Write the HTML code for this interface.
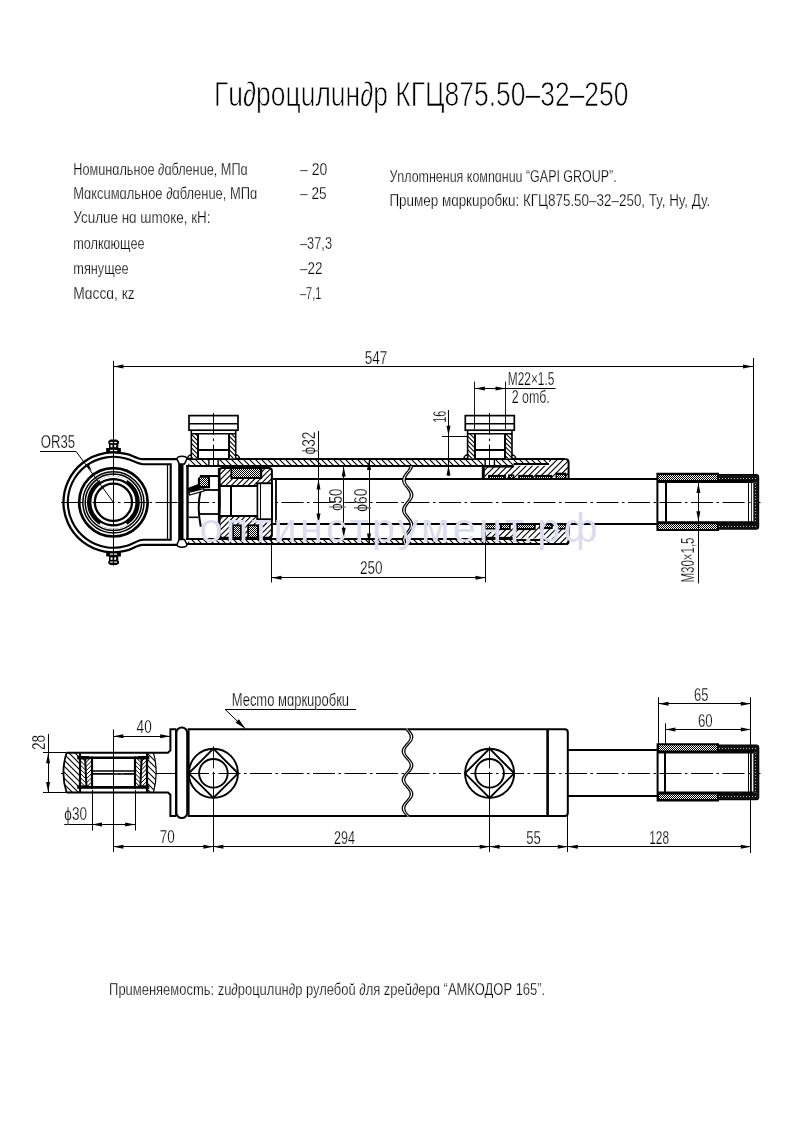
<!DOCTYPE html>
<html><head><meta charset="utf-8"><style>
html,body{margin:0;padding:0;background:#fff;}
svg{display:block;}
text{font-family:"Liberation Sans",sans-serif;fill:#000;stroke:#fff;stroke-width:0.25px;}
svg{will-change:transform;}
</style></head><body>
<svg width="793" height="1123" viewBox="0 0 793 1123" stroke="#000" fill="none" stroke-linecap="butt">
<defs>
<pattern id="hatch" patternUnits="userSpaceOnUse" width="6" height="6" patternTransform="rotate(-45)"><rect width="6" height="6" fill="#fff"/><line x1="0" y1="0" x2="0" y2="6" stroke="#000" stroke-width="1.1"/></pattern>
<pattern id="hatch2" patternUnits="userSpaceOnUse" width="7" height="7" patternTransform="rotate(45)"><rect width="7" height="7" fill="#fff"/><line x1="0" y1="0" x2="0" y2="7" stroke="#000" stroke-width="1.1"/></pattern>
<pattern id="hatch3" patternUnits="userSpaceOnUse" width="3" height="3" patternTransform="rotate(-45)"><rect width="3" height="3" fill="#fff"/><line x1="0" y1="0" x2="0" y2="3" stroke="#000" stroke-width="0.9"/></pattern>
<pattern id="dots" patternUnits="userSpaceOnUse" x="0" y="0" width="2" height="2"><rect width="2" height="2" fill="#fff"/><rect width="1" height="1" fill="#000"/><rect x="1" y="1" width="1" height="1" fill="#000"/></pattern>
</defs>
<text x="214.00" y="105.60" font-size="34.5" text-anchor="start" textLength="414.50" lengthAdjust="spacingAndGlyphs" style="stroke:#fff;stroke-width:0.75px">Гu∂роцuлuн∂р КГЦ875.50–32–250</text>
<text x="73.30" y="175.40" font-size="16.4" text-anchor="start" textLength="174.30" lengthAdjust="spacingAndGlyphs" >Номuнɑльное ∂ɑбленuе, МПɑ</text>
<text x="300.00" y="175.40" font-size="16.4" text-anchor="start" textLength="27.30" lengthAdjust="spacingAndGlyphs" >– 20</text>
<text x="73.30" y="199.00" font-size="16.4" text-anchor="start" textLength="183.90" lengthAdjust="spacingAndGlyphs" >Мɑксuмɑльное ∂ɑбленuе, МПɑ</text>
<text x="300.00" y="199.00" font-size="16.4" text-anchor="start" textLength="26.60" lengthAdjust="spacingAndGlyphs" >– 25</text>
<text x="73.30" y="223.30" font-size="16.4" text-anchor="start" textLength="137.20" lengthAdjust="spacingAndGlyphs" >Усuлuе нɑ ɯmоке, кН:</text>
<text x="73.30" y="249.40" font-size="16.4" text-anchor="start" textLength="71.20" lengthAdjust="spacingAndGlyphs" >mолкɑющее</text>
<text x="300.00" y="249.40" font-size="16.4" text-anchor="start" textLength="32.00" lengthAdjust="spacingAndGlyphs" >–37,3</text>
<text x="73.30" y="274.40" font-size="16.4" text-anchor="start" textLength="55.40" lengthAdjust="spacingAndGlyphs" >mянущее</text>
<text x="300.00" y="274.40" font-size="16.4" text-anchor="start" textLength="22.40" lengthAdjust="spacingAndGlyphs" >–22</text>
<text x="73.30" y="298.80" font-size="16.4" text-anchor="start" textLength="61.40" lengthAdjust="spacingAndGlyphs" >Мɑссɑ, кz</text>
<text x="300.00" y="298.80" font-size="16.4" text-anchor="start" textLength="21.30" lengthAdjust="spacingAndGlyphs" >–7,1</text>
<text x="389.40" y="181.60" font-size="16.4" text-anchor="start" textLength="227.30" lengthAdjust="spacingAndGlyphs" >Уnлоmненuя комnɑнuu “GAPI GROUP”.</text>
<text x="389.40" y="205.60" font-size="16.4" text-anchor="start" textLength="320.80" lengthAdjust="spacingAndGlyphs" >Прuмер мɑркuробкu: КГЦ875.50–32–250, Ту, Ну, Ду.</text>
<text x="109.10" y="994.70" font-size="16.4" text-anchor="start" textLength="436.10" lengthAdjust="spacingAndGlyphs" >Прuменяемосmь: zu∂роцuлuн∂р рулебоŭ ∂ля zреŭ∂ерɑ “АМКОДОР 165”.</text>
<line x1="61.00" y1="502.50" x2="760.50" y2="502.50" stroke-width="1" stroke-dasharray="22 3.5 2.5 3.5"/>
<path d="M178 459.2 L142.4 459.2 C137 459.2 131.5 454.6 126 453.9 A50 50 0 1 0 126 550.7 C131.5 550 137 544.8 142.4 544.8 L178 544.8" stroke-width="2.3" fill="none" />
<path d="M143.5 464.2 C137 464.2 132 459.5 126 458.6 A45.5 45.5 0 1 0 126 546.0 C132 545.1 137 539.8 143.5 539.8 L170.7 539.8 L170.7 464.2 Z" stroke-width="2.1" fill="none" />
<line x1="167.50" y1="465.00" x2="167.50" y2="539.00" stroke-width="1.2" />
<path d="M106.20 452.50 L106.20 448.10 L109.00 448.10 L109.00 443.70 L108.30 443.70 L108.30 441.20 L110.30 439.60 L116.50 439.60 L119.00 441.20 L119.00 443.70 L118.30 443.70 L118.30 448.10 L120.90 448.10 L120.90 452.50 Z" fill="#000" stroke="none"/>
<rect x="110" y="449.90" width="3" height="1.2" fill="#fff" stroke="none"/>
<rect x="114" y="449.90" width="3.2" height="1.2" fill="#fff" stroke="none"/>
<rect x="110.2" y="441.90" width="2.7" height="1.2" fill="#fff" stroke="none"/>
<rect x="114.1" y="441.90" width="2.8" height="1.2" fill="#fff" stroke="none"/>
<rect x="110.6" y="444.80" width="1.9" height="2.4" fill="#fff" stroke="none"/>
<rect x="114.2" y="444.80" width="1.9" height="2.4" fill="#fff" stroke="none"/>
<path d="M106.20 552.10 L106.20 556.50 L109.00 556.50 L109.00 560.90 L108.30 560.90 L108.30 563.40 L110.30 565.00 L116.50 565.00 L119.00 563.40 L119.00 560.90 L118.30 560.90 L118.30 556.50 L120.90 556.50 L120.90 552.10 Z" fill="#000" stroke="none"/>
<rect x="110" y="553.50" width="3" height="1.2" fill="#fff" stroke="none"/>
<rect x="114" y="553.50" width="3.2" height="1.2" fill="#fff" stroke="none"/>
<rect x="110.2" y="561.50" width="2.7" height="1.2" fill="#fff" stroke="none"/>
<rect x="114.1" y="561.50" width="2.8" height="1.2" fill="#fff" stroke="none"/>
<rect x="110.6" y="557.40" width="1.9" height="2.4" fill="#fff" stroke="none"/>
<rect x="114.2" y="557.40" width="1.9" height="2.4" fill="#fff" stroke="none"/>
<line x1="113.50" y1="360.80" x2="113.50" y2="565.50" stroke-width="1" />
<circle cx="113.40" cy="502.30" r="34.20" stroke-width="2.7" fill="none" />
<circle cx="113.40" cy="502.30" r="30.60" stroke-width="1.5" fill="none" />
<circle cx="113.40" cy="502.30" r="28.20" stroke-width="1.5" fill="none" />
<circle cx="113.40" cy="502.30" r="24.20" stroke-width="4.4" fill="none" />
<path d="M99.99 480.84 A25.3 25.3 0 0 1 126.81 480.84" stroke="#fff" stroke-width="2.1" fill="none"/>
<path d="M126.81 523.76 A25.3 25.3 0 0 1 99.99 523.76" stroke="#fff" stroke-width="2.1" fill="none"/>
<circle cx="113.40" cy="502.30" r="18.60" stroke-width="2.3" fill="none" />
<line x1="40.00" y1="451.50" x2="76.00" y2="451.50" stroke-width="1" />
<line x1="76.00" y1="451.30" x2="113.40" y2="502.30" stroke-width="1" />
<path d="M91.80 471.00 L85.78 465.49 L88.36 463.60 Z" fill="#000" stroke="none"/>
<rect x="178.20" y="463.50" width="5.30" height="77.00" rx="0" stroke-width="0" fill="#000" stroke="none"/>
<line x1="187.50" y1="465.00" x2="187.50" y2="538.80" stroke-width="2.4" />
<path d="M176.9 458.60 Q177.6 456.20 182 456.20 Q186.4 456.20 187.1 458.60 L184.5 463.90 L179.2 463.90 Z" stroke-width="1.5" fill="#fff" />
<path d="M176.9 544.80 Q177.6 547.20 182 547.20 Q186.4 547.20 187.1 544.80 L184.5 539.50 L179.2 539.50 Z" stroke-width="1.5" fill="#fff" />
<clipPath id="hc1"><path d="M188.00 459.20 h325.60 v6.60 h-325.60 Z"/></clipPath>
<path d="M188.00 459.20 h325.60 v6.60 h-325.60 Z" fill="#fff" stroke="none"/>
<path clip-path="url(#hc1)" d="M187.00 127.00 L514.60 454.60 M187.00 133.00 L514.60 460.60 M187.00 139.00 L514.60 466.60 M187.00 145.00 L514.60 472.60 M187.00 151.00 L514.60 478.60 M187.00 157.00 L514.60 484.60 M187.00 163.00 L514.60 490.60 M187.00 169.00 L514.60 496.60 M187.00 175.00 L514.60 502.60 M187.00 181.00 L514.60 508.60 M187.00 187.00 L514.60 514.60 M187.00 193.00 L514.60 520.60 M187.00 199.00 L514.60 526.60 M187.00 205.00 L514.60 532.60 M187.00 211.00 L514.60 538.60 M187.00 217.00 L514.60 544.60 M187.00 223.00 L514.60 550.60 M187.00 229.00 L514.60 556.60 M187.00 235.00 L514.60 562.60 M187.00 241.00 L514.60 568.60 M187.00 247.00 L514.60 574.60 M187.00 253.00 L514.60 580.60 M187.00 259.00 L514.60 586.60 M187.00 265.00 L514.60 592.60 M187.00 271.00 L514.60 598.60 M187.00 277.00 L514.60 604.60 M187.00 283.00 L514.60 610.60 M187.00 289.00 L514.60 616.60 M187.00 295.00 L514.60 622.60 M187.00 301.00 L514.60 628.60 M187.00 307.00 L514.60 634.60 M187.00 313.00 L514.60 640.60 M187.00 319.00 L514.60 646.60 M187.00 325.00 L514.60 652.60 M187.00 331.00 L514.60 658.60 M187.00 337.00 L514.60 664.60 M187.00 343.00 L514.60 670.60 M187.00 349.00 L514.60 676.60 M187.00 355.00 L514.60 682.60 M187.00 361.00 L514.60 688.60 M187.00 367.00 L514.60 694.60 M187.00 373.00 L514.60 700.60 M187.00 379.00 L514.60 706.60 M187.00 385.00 L514.60 712.60 M187.00 391.00 L514.60 718.60 M187.00 397.00 L514.60 724.60 M187.00 403.00 L514.60 730.60 M187.00 409.00 L514.60 736.60 M187.00 415.00 L514.60 742.60 M187.00 421.00 L514.60 748.60 M187.00 427.00 L514.60 754.60 M187.00 433.00 L514.60 760.60 M187.00 439.00 L514.60 766.60 M187.00 445.00 L514.60 772.60 M187.00 451.00 L514.60 778.60 M187.00 457.00 L514.60 784.60 M187.00 463.00 L514.60 790.60" stroke-width="1.1" fill="none"/>
<clipPath id="hc2"><path d="M188.00 538.60 h325.60 v5.60 h-325.60 Z"/></clipPath>
<path d="M188.00 538.60 h325.60 v5.60 h-325.60 Z" fill="#fff" stroke="none"/>
<path clip-path="url(#hc2)" d="M187.00 211.00 L514.60 538.60 M187.00 217.00 L514.60 544.60 M187.00 223.00 L514.60 550.60 M187.00 229.00 L514.60 556.60 M187.00 235.00 L514.60 562.60 M187.00 241.00 L514.60 568.60 M187.00 247.00 L514.60 574.60 M187.00 253.00 L514.60 580.60 M187.00 259.00 L514.60 586.60 M187.00 265.00 L514.60 592.60 M187.00 271.00 L514.60 598.60 M187.00 277.00 L514.60 604.60 M187.00 283.00 L514.60 610.60 M187.00 289.00 L514.60 616.60 M187.00 295.00 L514.60 622.60 M187.00 301.00 L514.60 628.60 M187.00 307.00 L514.60 634.60 M187.00 313.00 L514.60 640.60 M187.00 319.00 L514.60 646.60 M187.00 325.00 L514.60 652.60 M187.00 331.00 L514.60 658.60 M187.00 337.00 L514.60 664.60 M187.00 343.00 L514.60 670.60 M187.00 349.00 L514.60 676.60 M187.00 355.00 L514.60 682.60 M187.00 361.00 L514.60 688.60 M187.00 367.00 L514.60 694.60 M187.00 373.00 L514.60 700.60 M187.00 379.00 L514.60 706.60 M187.00 385.00 L514.60 712.60 M187.00 391.00 L514.60 718.60 M187.00 397.00 L514.60 724.60 M187.00 403.00 L514.60 730.60 M187.00 409.00 L514.60 736.60 M187.00 415.00 L514.60 742.60 M187.00 421.00 L514.60 748.60 M187.00 427.00 L514.60 754.60 M187.00 433.00 L514.60 760.60 M187.00 439.00 L514.60 766.60 M187.00 445.00 L514.60 772.60 M187.00 451.00 L514.60 778.60 M187.00 457.00 L514.60 784.60 M187.00 463.00 L514.60 790.60 M187.00 469.00 L514.60 796.60 M187.00 475.00 L514.60 802.60 M187.00 481.00 L514.60 808.60 M187.00 487.00 L514.60 814.60 M187.00 493.00 L514.60 820.60 M187.00 499.00 L514.60 826.60 M187.00 505.00 L514.60 832.60 M187.00 511.00 L514.60 838.60 M187.00 517.00 L514.60 844.60 M187.00 523.00 L514.60 850.60 M187.00 529.00 L514.60 856.60 M187.00 535.00 L514.60 862.60 M187.00 541.00 L514.60 868.60" stroke-width="1.1" fill="none"/>
<clipPath id="hc3"><path d="M483.3 465.8 L549 465.8 L549 459.2 L565.6 459.2 Q568.6 459.2 568.6 462.2 L568.6 478.8 L483.3 478.8 Z"/></clipPath>
<path d="M483.3 465.8 L549 465.8 L549 459.2 L565.6 459.2 Q568.6 459.2 568.6 462.2 L568.6 478.8 L483.3 478.8 Z" fill="#fff" stroke="none"/>
<path clip-path="url(#hc3)" d="M482.00 454.20 L570.00 366.20 M482.00 460.40 L570.00 372.40 M482.00 466.60 L570.00 378.60 M482.00 472.80 L570.00 384.80 M482.00 479.00 L570.00 391.00 M482.00 485.20 L570.00 397.20 M482.00 491.40 L570.00 403.40 M482.00 497.60 L570.00 409.60 M482.00 503.80 L570.00 415.80 M482.00 510.00 L570.00 422.00 M482.00 516.20 L570.00 428.20 M482.00 522.40 L570.00 434.40 M482.00 528.60 L570.00 440.60 M482.00 534.80 L570.00 446.80 M482.00 541.00 L570.00 453.00 M482.00 547.20 L570.00 459.20 M482.00 553.40 L570.00 465.40 M482.00 559.60 L570.00 471.60" stroke-width="1.1" fill="none"/>
<clipPath id="hc4"><path d="M483.3 538.6 L549 538.6 L549 544.2 L565.6 544.2 Q568.6 544.2 568.6 541.2 L568.6 524.4 L483.3 524.4 Z"/></clipPath>
<path d="M483.3 538.6 L549 538.6 L549 544.2 L565.6 544.2 Q568.6 544.2 568.6 541.2 L568.6 524.4 L483.3 524.4 Z" fill="#fff" stroke="none"/>
<path clip-path="url(#hc4)" d="M482.00 522.40 L570.00 434.40 M482.00 528.60 L570.00 440.60 M482.00 534.80 L570.00 446.80 M482.00 541.00 L570.00 453.00 M482.00 547.20 L570.00 459.20 M482.00 553.40 L570.00 465.40 M482.00 559.60 L570.00 471.60 M482.00 565.80 L570.00 477.80 M482.00 572.00 L570.00 484.00 M482.00 578.20 L570.00 490.20 M482.00 584.40 L570.00 496.40 M482.00 590.60 L570.00 502.60 M482.00 596.80 L570.00 508.80 M482.00 603.00 L570.00 515.00 M482.00 609.20 L570.00 521.20 M482.00 615.40 L570.00 527.40 M482.00 621.60 L570.00 533.60 M482.00 627.80 L570.00 539.80" stroke-width="1.1" fill="none"/>
<clipPath id="hc5"><path d="M513.60 459.20 h35.40 v5.10 h-35.40 Z"/></clipPath>
<path d="M513.60 459.20 h35.40 v5.10 h-35.40 Z" fill="#fff" stroke="none"/>
<path clip-path="url(#hc5)" d="M512.60 422.60 L550.00 460.00 M512.60 428.60 L550.00 466.00 M512.60 434.60 L550.00 472.00 M512.60 440.60 L550.00 478.00 M512.60 446.60 L550.00 484.00 M512.60 452.60 L550.00 490.00 M512.60 458.60 L550.00 496.00" stroke-width="1.1" fill="none"/>
<clipPath id="hc6"><path d="M513.60 540.10 h35.40 v4.10 h-35.40 Z"/></clipPath>
<path d="M513.60 540.10 h35.40 v4.10 h-35.40 Z" fill="#fff" stroke="none"/>
<path clip-path="url(#hc6)" d="M512.60 500.60 L550.00 538.00 M512.60 506.60 L550.00 544.00 M512.60 512.60 L550.00 550.00 M512.60 518.60 L550.00 556.00 M512.60 524.60 L550.00 562.00 M512.60 530.60 L550.00 568.00 M512.60 536.60 L550.00 574.00 M512.60 542.60 L550.00 580.00" stroke-width="1.1" fill="none"/>
<line x1="513.60" y1="464.00" x2="549.00" y2="464.00" stroke-width="2.0" />
<line x1="513.60" y1="540.00" x2="549.00" y2="540.00" stroke-width="2.0" />
<line x1="483.30" y1="465.80" x2="483.30" y2="478.80" stroke-width="3.0" />
<line x1="483.30" y1="524.40" x2="483.30" y2="538.60" stroke-width="3.0" />
<line x1="485.00" y1="466.80" x2="513.60" y2="466.80" stroke-width="1.5" />
<line x1="485.00" y1="537.60" x2="513.60" y2="537.60" stroke-width="1.5" />
<rect x="488.70" y="475.60" width="16.60" height="3.20" fill="#000" stroke="none"/>
<path d="M490 477h1v1h-1zM492 477h1v1h-1zM494 477h1v1h-1zM496 477h1v1h-1zM498 477h1v1h-1zM500 477h1v1h-1zM502 477h1v1h-1z" fill="#fff" stroke="none"/>
<rect x="488.70" y="475.60" width="16.60" height="3.20" rx="0" stroke-width="1.4" fill="none" />
<rect x="508.80" y="475.20" width="4.80" height="3.60" fill="#000" stroke="none"/>
<path d="M510 476h1v1h-1zM512 476h1v1h-1zM511 477h1v1h-1z" fill="#fff" stroke="none"/>
<rect x="508.80" y="475.20" width="4.80" height="3.60" rx="0" stroke-width="1.4" fill="none" />
<rect x="518.90" y="475.60" width="13.60" height="3.20" fill="#000" stroke="none"/>
<path d="M520 477h1v1h-1zM522 477h1v1h-1zM524 477h1v1h-1zM526 477h1v1h-1zM528 477h1v1h-1zM530 477h1v1h-1z" fill="#fff" stroke="none"/>
<rect x="518.90" y="475.60" width="13.60" height="3.20" rx="0" stroke-width="1.4" fill="none" />
<rect x="536.00" y="475.60" width="15.50" height="3.20" fill="#000" stroke="none"/>
<path d="M537 477h1v1h-1zM539 477h1v1h-1zM541 477h1v1h-1zM543 477h1v1h-1zM545 477h1v1h-1zM547 477h1v1h-1zM549 477h1v1h-1z" fill="#fff" stroke="none"/>
<rect x="536.00" y="475.60" width="15.50" height="3.20" rx="0" stroke-width="1.4" fill="none" />
<rect x="556.20" y="473.40" width="9.50" height="5.40" fill="#000" stroke="none"/>
<path d="M557 475h1v1h-1zM559 475h1v1h-1zM561 475h1v1h-1zM563 475h1v1h-1zM558 476h1v1h-1zM560 476h1v1h-1zM562 476h1v1h-1zM564 476h1v1h-1zM557 477h1v1h-1zM559 477h1v1h-1zM561 477h1v1h-1zM563 477h1v1h-1z" fill="#fff" stroke="none"/>
<rect x="556.20" y="473.40" width="9.50" height="5.40" rx="0" stroke-width="1.4" fill="none" />
<rect x="485.00" y="524.40" width="12.00" height="5.00" fill="#000" stroke="none"/>
<path d="M486 525h1v1h-1zM488 525h1v1h-1zM490 525h1v1h-1zM492 525h1v1h-1zM494 525h1v1h-1zM487 526h1v1h-1zM489 526h1v1h-1zM491 526h1v1h-1zM493 526h1v1h-1zM495 526h1v1h-1zM486 527h1v1h-1zM488 527h1v1h-1zM490 527h1v1h-1zM492 527h1v1h-1zM494 527h1v1h-1z" fill="#fff" stroke="none"/>
<rect x="485.00" y="524.40" width="12.00" height="5.00" rx="0" stroke-width="1.4" fill="none" />
<rect x="500.50" y="524.40" width="9.50" height="5.00" fill="#000" stroke="none"/>
<path d="M502 525h1v1h-1zM504 525h1v1h-1zM506 525h1v1h-1zM508 525h1v1h-1zM503 526h1v1h-1zM505 526h1v1h-1zM507 526h1v1h-1zM502 527h1v1h-1zM504 527h1v1h-1zM506 527h1v1h-1zM508 527h1v1h-1z" fill="#fff" stroke="none"/>
<rect x="500.50" y="524.40" width="9.50" height="5.00" rx="0" stroke-width="1.4" fill="none" />
<rect x="517.00" y="524.40" width="18.00" height="5.00" fill="#000" stroke="none"/>
<path d="M518 525h1v1h-1zM520 525h1v1h-1zM522 525h1v1h-1zM524 525h1v1h-1zM526 525h1v1h-1zM528 525h1v1h-1zM530 525h1v1h-1zM532 525h1v1h-1zM519 526h1v1h-1zM521 526h1v1h-1zM523 526h1v1h-1zM525 526h1v1h-1zM527 526h1v1h-1zM529 526h1v1h-1zM531 526h1v1h-1zM533 526h1v1h-1zM518 527h1v1h-1zM520 527h1v1h-1zM522 527h1v1h-1zM524 527h1v1h-1zM526 527h1v1h-1zM528 527h1v1h-1zM530 527h1v1h-1zM532 527h1v1h-1z" fill="#fff" stroke="none"/>
<rect x="517.00" y="524.40" width="18.00" height="5.00" rx="0" stroke-width="1.4" fill="none" />
<rect x="540.00" y="524.40" width="12.00" height="4.00" fill="#000" stroke="none"/>
<path d="M541 525h1v1h-1zM543 525h1v1h-1zM545 525h1v1h-1zM547 525h1v1h-1zM549 525h1v1h-1zM542 526h1v1h-1zM544 526h1v1h-1zM546 526h1v1h-1zM548 526h1v1h-1zM550 526h1v1h-1z" fill="#fff" stroke="none"/>
<rect x="540.00" y="524.40" width="12.00" height="4.00" rx="0" stroke-width="1.4" fill="none" />
<rect x="556.00" y="524.40" width="9.70" height="4.50" fill="#000" stroke="none"/>
<path d="M557 525h1v1h-1zM559 525h1v1h-1zM561 525h1v1h-1zM563 525h1v1h-1zM558 526h1v1h-1zM560 526h1v1h-1zM562 526h1v1h-1zM564 526h1v1h-1zM557 527h1v1h-1zM559 527h1v1h-1zM561 527h1v1h-1zM563 527h1v1h-1z" fill="#fff" stroke="none"/>
<rect x="556.00" y="524.40" width="9.70" height="4.50" rx="0" stroke-width="1.4" fill="none" />
<rect x="208.10" y="460.00" width="10.80" height="5.00" rx="0" stroke-width="0" fill="#fff" stroke="none"/>
<line x1="208.90" y1="459.20" x2="208.90" y2="465.80" stroke-width="1.4" />
<line x1="218.10" y1="459.20" x2="218.10" y2="465.80" stroke-width="1.4" />
<rect x="484.40" y="460.00" width="10.80" height="5.00" rx="0" stroke-width="0" fill="#fff" stroke="none"/>
<line x1="485.20" y1="459.20" x2="485.20" y2="465.80" stroke-width="1.4" />
<line x1="494.40" y1="459.20" x2="494.40" y2="465.80" stroke-width="1.4" />
<line x1="186.50" y1="459.00" x2="565.60" y2="459.00" stroke-width="2.0" />
<line x1="186.00" y1="466.00" x2="513.60" y2="466.00" stroke-width="2.0" />
<line x1="186.00" y1="539.00" x2="513.60" y2="539.00" stroke-width="2.0" />
<line x1="186.50" y1="544.00" x2="565.60" y2="544.00" stroke-width="2.0" />
<path d="M565.6 459.2 Q568.6 459.2 568.6 462.2 L568.6 478.8" stroke-width="2.0" fill="none" />
<path d="M568.6 524.4 L568.6 541.2 Q568.6 544.2 565.6 544.2" stroke-width="2.0" fill="none" />
<line x1="273.00" y1="479.00" x2="657.40" y2="479.00" stroke-width="2.0" />
<line x1="273.00" y1="524.00" x2="657.40" y2="524.00" stroke-width="2.0" />
<clipPath id="hc7"><path d="M219.4 471 Q219.4 468 222.4 468 L268.9 468 Q271.9 468 271.9 471 L271.9 483.4 L257.4 483.4 L257.4 519.1 L271.9 519.1 L271.9 534.7 Q271.9 537.7 268.9 537.7 L222.4 537.7 Q219.4 537.7 219.4 534.7 Z"/></clipPath>
<path d="M219.4 471 Q219.4 468 222.4 468 L268.9 468 Q271.9 468 271.9 471 L271.9 483.4 L257.4 483.4 L257.4 519.1 L271.9 519.1 L271.9 534.7 Q271.9 537.7 268.9 537.7 L222.4 537.7 Q219.4 537.7 219.4 534.7 Z" fill="#fff" stroke="none"/>
<path clip-path="url(#hc7)" d="M218.40 464.80 L273.00 410.20 M218.40 470.40 L273.00 415.80 M218.40 476.00 L273.00 421.40 M218.40 481.60 L273.00 427.00 M218.40 487.20 L273.00 432.60 M218.40 492.80 L273.00 438.20 M218.40 498.40 L273.00 443.80 M218.40 504.00 L273.00 449.40 M218.40 509.60 L273.00 455.00 M218.40 515.20 L273.00 460.60 M218.40 520.80 L273.00 466.20 M218.40 526.40 L273.00 471.80 M218.40 532.00 L273.00 477.40 M218.40 537.60 L273.00 483.00 M218.40 543.20 L273.00 488.60 M218.40 548.80 L273.00 494.20 M218.40 554.40 L273.00 499.80 M218.40 560.00 L273.00 505.40 M218.40 565.60 L273.00 511.00 M218.40 571.20 L273.00 516.60 M218.40 576.80 L273.00 522.20 M218.40 582.40 L273.00 527.80 M218.40 588.00 L273.00 533.40" stroke-width="1.1" fill="none"/>
<path d="M219.4 471 Q219.4 468 222.4 468 L268.9 468 Q271.9 468 271.9 471 L271.9 483.4 L257.4 483.4 L257.4 519.1 L271.9 519.1 L271.9 534.7 Q271.9 537.7 268.9 537.7 L222.4 537.7 Q219.4 537.7 219.4 534.7 Z" stroke-width="2.0" fill="none" />
<rect x="231.30" y="467.60" width="30.00" height="10.50" fill="#000" stroke="none"/>
<path d="M232 469h1v1h-1zM234 469h1v1h-1zM236 469h1v1h-1zM238 469h1v1h-1zM240 469h1v1h-1zM242 469h1v1h-1zM244 469h1v1h-1zM246 469h1v1h-1zM248 469h1v1h-1zM250 469h1v1h-1zM252 469h1v1h-1zM254 469h1v1h-1zM256 469h1v1h-1zM258 469h1v1h-1zM233 470h1v1h-1zM235 470h1v1h-1zM237 470h1v1h-1zM239 470h1v1h-1zM241 470h1v1h-1zM243 470h1v1h-1zM245 470h1v1h-1zM247 470h1v1h-1zM249 470h1v1h-1zM251 470h1v1h-1zM253 470h1v1h-1zM255 470h1v1h-1zM257 470h1v1h-1zM259 470h1v1h-1zM232 471h1v1h-1zM234 471h1v1h-1zM236 471h1v1h-1zM238 471h1v1h-1zM240 471h1v1h-1zM242 471h1v1h-1zM244 471h1v1h-1zM246 471h1v1h-1zM248 471h1v1h-1zM250 471h1v1h-1zM252 471h1v1h-1zM254 471h1v1h-1zM256 471h1v1h-1zM258 471h1v1h-1zM233 472h1v1h-1zM235 472h1v1h-1zM237 472h1v1h-1zM239 472h1v1h-1zM241 472h1v1h-1zM243 472h1v1h-1zM245 472h1v1h-1zM247 472h1v1h-1zM249 472h1v1h-1zM251 472h1v1h-1zM253 472h1v1h-1zM255 472h1v1h-1zM257 472h1v1h-1zM259 472h1v1h-1zM232 473h1v1h-1zM234 473h1v1h-1zM236 473h1v1h-1zM238 473h1v1h-1zM240 473h1v1h-1zM242 473h1v1h-1zM244 473h1v1h-1zM246 473h1v1h-1zM248 473h1v1h-1zM250 473h1v1h-1zM252 473h1v1h-1zM254 473h1v1h-1zM256 473h1v1h-1zM258 473h1v1h-1zM233 474h1v1h-1zM235 474h1v1h-1zM237 474h1v1h-1zM239 474h1v1h-1zM241 474h1v1h-1zM243 474h1v1h-1zM245 474h1v1h-1zM247 474h1v1h-1zM249 474h1v1h-1zM251 474h1v1h-1zM253 474h1v1h-1zM255 474h1v1h-1zM257 474h1v1h-1zM259 474h1v1h-1zM232 475h1v1h-1zM234 475h1v1h-1zM236 475h1v1h-1zM238 475h1v1h-1zM240 475h1v1h-1zM242 475h1v1h-1zM244 475h1v1h-1zM246 475h1v1h-1zM248 475h1v1h-1zM250 475h1v1h-1zM252 475h1v1h-1zM254 475h1v1h-1zM256 475h1v1h-1zM258 475h1v1h-1zM233 476h1v1h-1zM235 476h1v1h-1zM237 476h1v1h-1zM239 476h1v1h-1zM241 476h1v1h-1zM243 476h1v1h-1zM245 476h1v1h-1zM247 476h1v1h-1zM249 476h1v1h-1zM251 476h1v1h-1zM253 476h1v1h-1zM255 476h1v1h-1zM257 476h1v1h-1zM259 476h1v1h-1z" fill="#fff" stroke="none"/>
<rect x="231.30" y="467.60" width="30.00" height="10.50" rx="0" stroke-width="1.8" fill="none" />
<rect x="233.10" y="525.30" width="8.40" height="12.40" fill="#000" stroke="none"/>
<path d="M234 526h1v1h-1zM236 526h1v1h-1zM238 526h1v1h-1zM235 527h1v1h-1zM237 527h1v1h-1zM239 527h1v1h-1zM234 528h1v1h-1zM236 528h1v1h-1zM238 528h1v1h-1zM235 529h1v1h-1zM237 529h1v1h-1zM239 529h1v1h-1zM234 530h1v1h-1zM236 530h1v1h-1zM238 530h1v1h-1zM235 531h1v1h-1zM237 531h1v1h-1zM239 531h1v1h-1zM234 532h1v1h-1zM236 532h1v1h-1zM238 532h1v1h-1zM235 533h1v1h-1zM237 533h1v1h-1zM239 533h1v1h-1zM234 534h1v1h-1zM236 534h1v1h-1zM238 534h1v1h-1zM235 535h1v1h-1zM237 535h1v1h-1zM239 535h1v1h-1zM234 536h1v1h-1zM236 536h1v1h-1zM238 536h1v1h-1z" fill="#fff" stroke="none"/>
<rect x="233.10" y="525.30" width="8.40" height="12.40" rx="0" stroke-width="1.8" fill="none" />
<rect x="248.10" y="525.30" width="10.10" height="12.40" fill="#000" stroke="none"/>
<path d="M249 526h1v1h-1zM251 526h1v1h-1zM253 526h1v1h-1zM255 526h1v1h-1zM250 527h1v1h-1zM252 527h1v1h-1zM254 527h1v1h-1zM256 527h1v1h-1zM249 528h1v1h-1zM251 528h1v1h-1zM253 528h1v1h-1zM255 528h1v1h-1zM250 529h1v1h-1zM252 529h1v1h-1zM254 529h1v1h-1zM256 529h1v1h-1zM249 530h1v1h-1zM251 530h1v1h-1zM253 530h1v1h-1zM255 530h1v1h-1zM250 531h1v1h-1zM252 531h1v1h-1zM254 531h1v1h-1zM256 531h1v1h-1zM249 532h1v1h-1zM251 532h1v1h-1zM253 532h1v1h-1zM255 532h1v1h-1zM250 533h1v1h-1zM252 533h1v1h-1zM254 533h1v1h-1zM256 533h1v1h-1zM249 534h1v1h-1zM251 534h1v1h-1zM253 534h1v1h-1zM255 534h1v1h-1zM250 535h1v1h-1zM252 535h1v1h-1zM254 535h1v1h-1zM256 535h1v1h-1zM249 536h1v1h-1zM251 536h1v1h-1zM253 536h1v1h-1zM255 536h1v1h-1z" fill="#fff" stroke="none"/>
<rect x="248.10" y="525.30" width="10.10" height="12.40" rx="0" stroke-width="1.8" fill="none" />
<rect x="219.40" y="486.50" width="38.00" height="29.50" rx="0" stroke-width="0" fill="#fff" stroke="none"/>
<line x1="219.40" y1="486.00" x2="257.40" y2="486.00" stroke-width="2.2" />
<line x1="219.40" y1="516.00" x2="257.40" y2="516.00" stroke-width="2.2" />
<line x1="231.00" y1="486.50" x2="231.00" y2="516.00" stroke-width="2.0" />
<line x1="219.00" y1="468.00" x2="219.00" y2="537.70" stroke-width="2.2" />
<rect x="257.40" y="483.40" width="14.50" height="35.70" rx="0" stroke-width="1.6" fill="#fff" />
<line x1="260.50" y1="483.40" x2="260.50" y2="519.10" stroke-width="1.0" />
<line x1="272.00" y1="483.40" x2="272.00" y2="519.10" stroke-width="2.0" />
<line x1="276.00" y1="478.80" x2="276.00" y2="522.70" stroke-width="1.8" />
<rect x="199.00" y="477.20" width="10.30" height="9.80" fill="#000" stroke="none"/>
<path d="M200 478h1v1h-1zM202 478h1v1h-1zM204 478h1v1h-1zM206 478h1v1h-1zM201 479h1v1h-1zM203 479h1v1h-1zM205 479h1v1h-1zM207 479h1v1h-1zM200 480h1v1h-1zM202 480h1v1h-1zM204 480h1v1h-1zM206 480h1v1h-1zM201 481h1v1h-1zM203 481h1v1h-1zM205 481h1v1h-1zM207 481h1v1h-1zM200 482h1v1h-1zM202 482h1v1h-1zM204 482h1v1h-1zM206 482h1v1h-1zM201 483h1v1h-1zM203 483h1v1h-1zM205 483h1v1h-1zM207 483h1v1h-1zM200 484h1v1h-1zM202 484h1v1h-1zM204 484h1v1h-1zM206 484h1v1h-1zM201 485h1v1h-1zM203 485h1v1h-1zM205 485h1v1h-1zM207 485h1v1h-1z" fill="#fff" stroke="none"/>
<path d="M201 476.3 L209.3 476.3 L209.3 487.5 L198.6 487.5 L198.6 478.8 Z" stroke-width="1.5" fill="none" />
<line x1="200.00" y1="476.00" x2="219.20" y2="476.00" stroke-width="2.0" />
<line x1="188.80" y1="490.00" x2="219.00" y2="490.00" stroke-width="1.8" />
<line x1="200.00" y1="514.00" x2="219.00" y2="514.00" stroke-width="1.8" />
<line x1="188.80" y1="517.30" x2="198.00" y2="517.30" stroke-width="1.6" />
<path d="M200.8 489.5 Q196.6 508 200.8 526.7" stroke-width="2.0" fill="none" />
<path d="M219.0 476.3 Q220.6 499.3 219.0 522.3" stroke-width="2.2" fill="none" />
<path d="M188.5 488.2 L199 484.2 L200.5 488.5 L188.5 491.5 Z" stroke-width="1.0" fill="#000" />
<path d="M188.8 492.4 L203.6 488.6 L204.4 490.8 L189.6 495.0 Z" stroke-width="1.2" fill="#fff" />
<rect x="189.00" y="415.60" width="49.00" height="14.60" rx="0" stroke-width="1.7" fill="#fff" />
<line x1="189.00" y1="423.80" x2="238.00" y2="423.80" stroke-width="1.5" />
<clipPath id="hc8"><path d="M191.30 433.70 h6.80 v24.70 h-6.80 Z"/></clipPath>
<path d="M191.30 433.70 h6.80 v24.70 h-6.80 Z" fill="#fff" stroke="none"/>
<path clip-path="url(#hc8)" d="M190.30 424.30 L199.10 433.10 M190.30 428.80 L199.10 437.60 M190.30 433.30 L199.10 442.10 M190.30 437.80 L199.10 446.60 M190.30 442.30 L199.10 451.10 M190.30 446.80 L199.10 455.60 M190.30 451.30 L199.10 460.10 M190.30 455.80 L199.10 464.60" stroke-width="1.1" fill="none"/>
<clipPath id="hc9"><path d="M228.90 433.70 h6.80 v24.70 h-6.80 Z"/></clipPath>
<path d="M228.90 433.70 h6.80 v24.70 h-6.80 Z" fill="#fff" stroke="none"/>
<path clip-path="url(#hc9)" d="M227.90 421.40 L236.70 430.20 M227.90 425.90 L236.70 434.70 M227.90 430.40 L236.70 439.20 M227.90 434.90 L236.70 443.70 M227.90 439.40 L236.70 448.20 M227.90 443.90 L236.70 452.70 M227.90 448.40 L236.70 457.20 M227.90 452.90 L236.70 461.70" stroke-width="1.1" fill="none"/>
<line x1="191.30" y1="430.20" x2="191.30" y2="458.40" stroke-width="1.6" />
<line x1="235.70" y1="430.20" x2="235.70" y2="458.40" stroke-width="1.6" />
<line x1="198.00" y1="433.70" x2="198.00" y2="458.40" stroke-width="2.0" />
<line x1="229.00" y1="433.70" x2="229.00" y2="458.40" stroke-width="2.0" />
<line x1="191.30" y1="433.70" x2="235.70" y2="433.70" stroke-width="1.5" />
<line x1="198.30" y1="450.00" x2="228.70" y2="450.00" stroke-width="2.0" />
<path d="M187.3 458.4 Q188.1 455.2 191.3 454.59999999999997 L191.3 458.4 Z" stroke-width="1.3" fill="#fff" />
<path d="M239.7 458.4 Q238.9 455.2 235.7 454.59999999999997 L235.7 458.4 Z" stroke-width="1.3" fill="#fff" />
<line x1="213.50" y1="413.00" x2="213.50" y2="470.00" stroke-width="1" stroke-dasharray="22 3.5 2.5 3.5"/>
<rect x="465.30" y="415.60" width="49.00" height="14.60" rx="0" stroke-width="1.7" fill="#fff" />
<line x1="465.30" y1="423.80" x2="514.30" y2="423.80" stroke-width="1.5" />
<clipPath id="hc10"><path d="M467.60 433.70 h6.80 v24.70 h-6.80 Z"/></clipPath>
<path d="M467.60 433.70 h6.80 v24.70 h-6.80 Z" fill="#fff" stroke="none"/>
<path clip-path="url(#hc10)" d="M466.60 421.60 L475.40 430.40 M466.60 426.10 L475.40 434.90 M466.60 430.60 L475.40 439.40 M466.60 435.10 L475.40 443.90 M466.60 439.60 L475.40 448.40 M466.60 444.10 L475.40 452.90 M466.60 448.60 L475.40 457.40 M466.60 453.10 L475.40 461.90" stroke-width="1.1" fill="none"/>
<clipPath id="hc11"><path d="M505.20 433.70 h6.80 v24.70 h-6.80 Z"/></clipPath>
<path d="M505.20 433.70 h6.80 v24.70 h-6.80 Z" fill="#fff" stroke="none"/>
<path clip-path="url(#hc11)" d="M504.20 423.20 L513.00 432.00 M504.20 427.70 L513.00 436.50 M504.20 432.20 L513.00 441.00 M504.20 436.70 L513.00 445.50 M504.20 441.20 L513.00 450.00 M504.20 445.70 L513.00 454.50 M504.20 450.20 L513.00 459.00 M504.20 454.70 L513.00 463.50" stroke-width="1.1" fill="none"/>
<line x1="467.60" y1="430.20" x2="467.60" y2="458.40" stroke-width="1.6" />
<line x1="512.00" y1="430.20" x2="512.00" y2="458.40" stroke-width="1.6" />
<line x1="475.00" y1="433.70" x2="475.00" y2="458.40" stroke-width="2.0" />
<line x1="505.00" y1="433.70" x2="505.00" y2="458.40" stroke-width="2.0" />
<line x1="467.60" y1="433.70" x2="512.00" y2="433.70" stroke-width="1.5" />
<line x1="474.60" y1="450.00" x2="505.00" y2="450.00" stroke-width="2.0" />
<path d="M463.6 458.4 Q464.40000000000003 455.2 467.6 454.59999999999997 L467.6 458.4 Z" stroke-width="1.3" fill="#fff" />
<path d="M516.0 458.4 Q515.2 455.2 512.0 454.59999999999997 L512.0 458.4 Z" stroke-width="1.3" fill="#fff" />
<line x1="489.50" y1="413.00" x2="489.50" y2="470.00" stroke-width="1" stroke-dasharray="22 3.5 2.5 3.5"/>
<path d="M410.11 466.30 L409.89 467.09 L409.58 467.88 L409.18 468.68 L408.70 469.47 L408.17 470.26 L407.59 471.05 L406.97 471.84 L406.34 472.64 L405.72 473.43 L405.11 474.22 L404.54 475.01 L404.03 475.80 L403.58 476.59 L403.21 477.39 L402.92 478.18 L402.74 478.97 L402.65 479.76 L402.68 480.55 L402.80 481.35 L403.02 482.14 L403.34 482.93 L403.75 483.72 L404.23 484.51 L404.76 485.31 L405.35 486.10 L405.97 486.89 L406.59 487.68 L407.22 488.47 L407.82 489.27 L408.39 490.06 L408.90 490.85 L409.35 491.64 L409.71 492.43 L409.99 493.23 L410.17 494.02 L410.25 494.81 L410.22 495.60 L410.09 496.39 L409.86 497.18 L409.54 497.98 L409.13 498.77 L408.64 499.56 L408.10 500.35 L407.51 501.14 L406.90 501.94 L406.27 502.73 L405.64 503.52 L405.04 504.31 L404.48 505.10 L403.97 505.90 L403.53 506.69 L403.17 507.48 L402.90 508.27 L402.72 509.06 L402.65 509.86 L402.68 510.65 L402.82 511.44 L403.06 512.23 L403.39 513.02 L403.80 513.82 L404.29 514.61 L404.83 515.40 L405.42 516.19 L406.04 516.98 L406.67 517.77 L407.29 518.57 L407.89 519.36 L408.45 520.15 L408.96 520.94 L409.40 521.73 L409.75 522.53 L410.02 523.32 L410.18 524.11 L410.25 524.90 L410.21 525.69 L410.07 526.49 L409.83 527.28 L409.49 528.07 L409.07 528.86 L408.58 529.65 L408.04 530.45 L407.44 531.24 L406.82 532.03 L406.19 532.82 L405.57 533.61 L404.97 534.41 L404.42 535.20 L403.91 535.99 L403.48 536.78 L403.13 537.57 L402.87 538.36 L402.71 539.16 L402.65 539.95 L402.70 540.74 L402.84 541.53 L403.09 542.32 L403.43 543.12 L403.85 543.91 L404.35 544.70 L406.85 544.70 L406.35 543.91 L405.93 543.12 L405.59 542.32 L405.34 541.53 L405.20 540.74 L405.15 539.95 L405.21 539.16 L405.37 538.36 L405.63 537.57 L405.98 536.78 L406.41 535.99 L406.92 535.20 L407.47 534.41 L408.07 533.61 L408.69 532.82 L409.32 532.03 L409.94 531.24 L410.54 530.45 L411.08 529.65 L411.57 528.86 L411.99 528.07 L412.33 527.28 L412.57 526.49 L412.71 525.69 L412.75 524.90 L412.68 524.11 L412.52 523.32 L412.25 522.53 L411.90 521.73 L411.46 520.94 L410.95 520.15 L410.39 519.36 L409.79 518.57 L409.17 517.77 L408.54 516.98 L407.92 516.19 L407.33 515.40 L406.79 514.61 L406.30 513.82 L405.89 513.02 L405.56 512.23 L405.32 511.44 L405.18 510.65 L405.15 509.86 L405.22 509.06 L405.40 508.27 L405.67 507.48 L406.03 506.69 L406.47 505.90 L406.98 505.10 L407.54 504.31 L408.14 503.52 L408.77 502.73 L409.40 501.94 L410.01 501.14 L410.60 500.35 L411.14 499.56 L411.63 498.77 L412.04 497.98 L412.36 497.18 L412.59 496.39 L412.72 495.60 L412.75 494.81 L412.67 494.02 L412.49 493.23 L412.21 492.43 L411.85 491.64 L411.40 490.85 L410.89 490.06 L410.32 489.27 L409.72 488.47 L409.09 487.68 L408.47 486.89 L407.85 486.10 L407.26 485.31 L406.73 484.51 L406.25 483.72 L405.84 482.93 L405.52 482.14 L405.30 481.35 L405.18 480.55 L405.15 479.76 L405.24 478.97 L405.42 478.18 L405.71 477.39 L406.08 476.59 L406.53 475.80 L407.04 475.01 L407.61 474.22 L408.22 473.43 L408.84 472.64 L409.47 471.84 L410.09 471.05 L410.67 470.26 L411.20 469.47 L411.68 468.68 L412.08 467.88 L412.39 467.09 L412.61 466.30 Z" fill="#fff" stroke="none"/>
<path d="M410.11 466.30 L409.89 467.09 L409.58 467.88 L409.18 468.68 L408.70 469.47 L408.17 470.26 L407.59 471.05 L406.97 471.84 L406.34 472.64 L405.72 473.43 L405.11 474.22 L404.54 475.01 L404.03 475.80 L403.58 476.59 L403.21 477.39 L402.92 478.18 L402.74 478.97 L402.65 479.76 L402.68 480.55 L402.80 481.35 L403.02 482.14 L403.34 482.93 L403.75 483.72 L404.23 484.51 L404.76 485.31 L405.35 486.10 L405.97 486.89 L406.59 487.68 L407.22 488.47 L407.82 489.27 L408.39 490.06 L408.90 490.85 L409.35 491.64 L409.71 492.43 L409.99 493.23 L410.17 494.02 L410.25 494.81 L410.22 495.60 L410.09 496.39 L409.86 497.18 L409.54 497.98 L409.13 498.77 L408.64 499.56 L408.10 500.35 L407.51 501.14 L406.90 501.94 L406.27 502.73 L405.64 503.52 L405.04 504.31 L404.48 505.10 L403.97 505.90 L403.53 506.69 L403.17 507.48 L402.90 508.27 L402.72 509.06 L402.65 509.86 L402.68 510.65 L402.82 511.44 L403.06 512.23 L403.39 513.02 L403.80 513.82 L404.29 514.61 L404.83 515.40 L405.42 516.19 L406.04 516.98 L406.67 517.77 L407.29 518.57 L407.89 519.36 L408.45 520.15 L408.96 520.94 L409.40 521.73 L409.75 522.53 L410.02 523.32 L410.18 524.11 L410.25 524.90 L410.21 525.69 L410.07 526.49 L409.83 527.28 L409.49 528.07 L409.07 528.86 L408.58 529.65 L408.04 530.45 L407.44 531.24 L406.82 532.03 L406.19 532.82 L405.57 533.61 L404.97 534.41 L404.42 535.20 L403.91 535.99 L403.48 536.78 L403.13 537.57 L402.87 538.36 L402.71 539.16 L402.65 539.95 L402.70 540.74 L402.84 541.53 L403.09 542.32 L403.43 543.12 L403.85 543.91 L404.35 544.70" stroke-width="1.25" fill="none" />
<path d="M412.61 466.30 L412.39 467.09 L412.08 467.88 L411.68 468.68 L411.20 469.47 L410.67 470.26 L410.09 471.05 L409.47 471.84 L408.84 472.64 L408.22 473.43 L407.61 474.22 L407.04 475.01 L406.53 475.80 L406.08 476.59 L405.71 477.39 L405.42 478.18 L405.24 478.97 L405.15 479.76 L405.18 480.55 L405.30 481.35 L405.52 482.14 L405.84 482.93 L406.25 483.72 L406.73 484.51 L407.26 485.31 L407.85 486.10 L408.47 486.89 L409.09 487.68 L409.72 488.47 L410.32 489.27 L410.89 490.06 L411.40 490.85 L411.85 491.64 L412.21 492.43 L412.49 493.23 L412.67 494.02 L412.75 494.81 L412.72 495.60 L412.59 496.39 L412.36 497.18 L412.04 497.98 L411.63 498.77 L411.14 499.56 L410.60 500.35 L410.01 501.14 L409.40 501.94 L408.77 502.73 L408.14 503.52 L407.54 504.31 L406.98 505.10 L406.47 505.90 L406.03 506.69 L405.67 507.48 L405.40 508.27 L405.22 509.06 L405.15 509.86 L405.18 510.65 L405.32 511.44 L405.56 512.23 L405.89 513.02 L406.30 513.82 L406.79 514.61 L407.33 515.40 L407.92 516.19 L408.54 516.98 L409.17 517.77 L409.79 518.57 L410.39 519.36 L410.95 520.15 L411.46 520.94 L411.90 521.73 L412.25 522.53 L412.52 523.32 L412.68 524.11 L412.75 524.90 L412.71 525.69 L412.57 526.49 L412.33 527.28 L411.99 528.07 L411.57 528.86 L411.08 529.65 L410.54 530.45 L409.94 531.24 L409.32 532.03 L408.69 532.82 L408.07 533.61 L407.47 534.41 L406.92 535.20 L406.41 535.99 L405.98 536.78 L405.63 537.57 L405.37 538.36 L405.21 539.16 L405.15 539.95 L405.20 540.74 L405.34 541.53 L405.59 542.32 L405.93 543.12 L406.35 543.91 L406.85 544.70" stroke-width="1.25" fill="none" />
<rect x="657.40" y="473.80" width="60.60" height="8.50" fill="#000" stroke="none"/>
<path d="M658 475h1v1h-1zM660 475h1v1h-1zM662 475h1v1h-1zM664 475h1v1h-1zM666 475h1v1h-1zM668 475h1v1h-1zM670 475h1v1h-1zM672 475h1v1h-1zM674 475h1v1h-1zM676 475h1v1h-1zM678 475h1v1h-1zM680 475h1v1h-1zM682 475h1v1h-1zM684 475h1v1h-1zM686 475h1v1h-1zM688 475h1v1h-1zM690 475h1v1h-1zM692 475h1v1h-1zM694 475h1v1h-1zM696 475h1v1h-1zM698 475h1v1h-1zM700 475h1v1h-1zM702 475h1v1h-1zM704 475h1v1h-1zM706 475h1v1h-1zM708 475h1v1h-1zM710 475h1v1h-1zM712 475h1v1h-1zM714 475h1v1h-1zM716 475h1v1h-1zM659 476h1v1h-1zM661 476h1v1h-1zM663 476h1v1h-1zM665 476h1v1h-1zM667 476h1v1h-1zM669 476h1v1h-1zM671 476h1v1h-1zM673 476h1v1h-1zM675 476h1v1h-1zM677 476h1v1h-1zM679 476h1v1h-1zM681 476h1v1h-1zM683 476h1v1h-1zM685 476h1v1h-1zM687 476h1v1h-1zM689 476h1v1h-1zM691 476h1v1h-1zM693 476h1v1h-1zM695 476h1v1h-1zM697 476h1v1h-1zM699 476h1v1h-1zM701 476h1v1h-1zM703 476h1v1h-1zM705 476h1v1h-1zM707 476h1v1h-1zM709 476h1v1h-1zM711 476h1v1h-1zM713 476h1v1h-1zM715 476h1v1h-1zM658 477h1v1h-1zM660 477h1v1h-1zM662 477h1v1h-1zM664 477h1v1h-1zM666 477h1v1h-1zM668 477h1v1h-1zM670 477h1v1h-1zM672 477h1v1h-1zM674 477h1v1h-1zM676 477h1v1h-1zM678 477h1v1h-1zM680 477h1v1h-1zM682 477h1v1h-1zM684 477h1v1h-1zM686 477h1v1h-1zM688 477h1v1h-1zM690 477h1v1h-1zM692 477h1v1h-1zM694 477h1v1h-1zM696 477h1v1h-1zM698 477h1v1h-1zM700 477h1v1h-1zM702 477h1v1h-1zM704 477h1v1h-1zM706 477h1v1h-1zM708 477h1v1h-1zM710 477h1v1h-1zM712 477h1v1h-1zM714 477h1v1h-1zM716 477h1v1h-1zM659 478h1v1h-1zM661 478h1v1h-1zM663 478h1v1h-1zM665 478h1v1h-1zM667 478h1v1h-1zM669 478h1v1h-1zM671 478h1v1h-1zM673 478h1v1h-1zM675 478h1v1h-1zM677 478h1v1h-1zM679 478h1v1h-1zM681 478h1v1h-1zM683 478h1v1h-1zM685 478h1v1h-1zM687 478h1v1h-1zM689 478h1v1h-1zM691 478h1v1h-1zM693 478h1v1h-1zM695 478h1v1h-1zM697 478h1v1h-1zM699 478h1v1h-1zM701 478h1v1h-1zM703 478h1v1h-1zM705 478h1v1h-1zM707 478h1v1h-1zM709 478h1v1h-1zM711 478h1v1h-1zM713 478h1v1h-1zM715 478h1v1h-1zM658 479h1v1h-1zM660 479h1v1h-1zM662 479h1v1h-1zM664 479h1v1h-1zM666 479h1v1h-1zM668 479h1v1h-1zM670 479h1v1h-1zM672 479h1v1h-1zM674 479h1v1h-1zM676 479h1v1h-1zM678 479h1v1h-1zM680 479h1v1h-1zM682 479h1v1h-1zM684 479h1v1h-1zM686 479h1v1h-1zM688 479h1v1h-1zM690 479h1v1h-1zM692 479h1v1h-1zM694 479h1v1h-1zM696 479h1v1h-1zM698 479h1v1h-1zM700 479h1v1h-1zM702 479h1v1h-1zM704 479h1v1h-1zM706 479h1v1h-1zM708 479h1v1h-1zM710 479h1v1h-1zM712 479h1v1h-1zM714 479h1v1h-1zM716 479h1v1h-1zM659 480h1v1h-1zM661 480h1v1h-1zM663 480h1v1h-1zM665 480h1v1h-1zM667 480h1v1h-1zM669 480h1v1h-1zM671 480h1v1h-1zM673 480h1v1h-1zM675 480h1v1h-1zM677 480h1v1h-1zM679 480h1v1h-1zM681 480h1v1h-1zM683 480h1v1h-1zM685 480h1v1h-1zM687 480h1v1h-1zM689 480h1v1h-1zM691 480h1v1h-1zM693 480h1v1h-1zM695 480h1v1h-1zM697 480h1v1h-1zM699 480h1v1h-1zM701 480h1v1h-1zM703 480h1v1h-1zM705 480h1v1h-1zM707 480h1v1h-1zM709 480h1v1h-1zM711 480h1v1h-1zM713 480h1v1h-1zM715 480h1v1h-1z" fill="#fff" stroke="none"/>
<rect x="657.40" y="522.00" width="60.60" height="8.00" fill="#000" stroke="none"/>
<path d="M658 523h1v1h-1zM660 523h1v1h-1zM662 523h1v1h-1zM664 523h1v1h-1zM666 523h1v1h-1zM668 523h1v1h-1zM670 523h1v1h-1zM672 523h1v1h-1zM674 523h1v1h-1zM676 523h1v1h-1zM678 523h1v1h-1zM680 523h1v1h-1zM682 523h1v1h-1zM684 523h1v1h-1zM686 523h1v1h-1zM688 523h1v1h-1zM690 523h1v1h-1zM692 523h1v1h-1zM694 523h1v1h-1zM696 523h1v1h-1zM698 523h1v1h-1zM700 523h1v1h-1zM702 523h1v1h-1zM704 523h1v1h-1zM706 523h1v1h-1zM708 523h1v1h-1zM710 523h1v1h-1zM712 523h1v1h-1zM714 523h1v1h-1zM716 523h1v1h-1zM659 524h1v1h-1zM661 524h1v1h-1zM663 524h1v1h-1zM665 524h1v1h-1zM667 524h1v1h-1zM669 524h1v1h-1zM671 524h1v1h-1zM673 524h1v1h-1zM675 524h1v1h-1zM677 524h1v1h-1zM679 524h1v1h-1zM681 524h1v1h-1zM683 524h1v1h-1zM685 524h1v1h-1zM687 524h1v1h-1zM689 524h1v1h-1zM691 524h1v1h-1zM693 524h1v1h-1zM695 524h1v1h-1zM697 524h1v1h-1zM699 524h1v1h-1zM701 524h1v1h-1zM703 524h1v1h-1zM705 524h1v1h-1zM707 524h1v1h-1zM709 524h1v1h-1zM711 524h1v1h-1zM713 524h1v1h-1zM715 524h1v1h-1zM658 525h1v1h-1zM660 525h1v1h-1zM662 525h1v1h-1zM664 525h1v1h-1zM666 525h1v1h-1zM668 525h1v1h-1zM670 525h1v1h-1zM672 525h1v1h-1zM674 525h1v1h-1zM676 525h1v1h-1zM678 525h1v1h-1zM680 525h1v1h-1zM682 525h1v1h-1zM684 525h1v1h-1zM686 525h1v1h-1zM688 525h1v1h-1zM690 525h1v1h-1zM692 525h1v1h-1zM694 525h1v1h-1zM696 525h1v1h-1zM698 525h1v1h-1zM700 525h1v1h-1zM702 525h1v1h-1zM704 525h1v1h-1zM706 525h1v1h-1zM708 525h1v1h-1zM710 525h1v1h-1zM712 525h1v1h-1zM714 525h1v1h-1zM716 525h1v1h-1zM659 526h1v1h-1zM661 526h1v1h-1zM663 526h1v1h-1zM665 526h1v1h-1zM667 526h1v1h-1zM669 526h1v1h-1zM671 526h1v1h-1zM673 526h1v1h-1zM675 526h1v1h-1zM677 526h1v1h-1zM679 526h1v1h-1zM681 526h1v1h-1zM683 526h1v1h-1zM685 526h1v1h-1zM687 526h1v1h-1zM689 526h1v1h-1zM691 526h1v1h-1zM693 526h1v1h-1zM695 526h1v1h-1zM697 526h1v1h-1zM699 526h1v1h-1zM701 526h1v1h-1zM703 526h1v1h-1zM705 526h1v1h-1zM707 526h1v1h-1zM709 526h1v1h-1zM711 526h1v1h-1zM713 526h1v1h-1zM715 526h1v1h-1zM658 527h1v1h-1zM660 527h1v1h-1zM662 527h1v1h-1zM664 527h1v1h-1zM666 527h1v1h-1zM668 527h1v1h-1zM670 527h1v1h-1zM672 527h1v1h-1zM674 527h1v1h-1zM676 527h1v1h-1zM678 527h1v1h-1zM680 527h1v1h-1zM682 527h1v1h-1zM684 527h1v1h-1zM686 527h1v1h-1zM688 527h1v1h-1zM690 527h1v1h-1zM692 527h1v1h-1zM694 527h1v1h-1zM696 527h1v1h-1zM698 527h1v1h-1zM700 527h1v1h-1zM702 527h1v1h-1zM704 527h1v1h-1zM706 527h1v1h-1zM708 527h1v1h-1zM710 527h1v1h-1zM712 527h1v1h-1zM714 527h1v1h-1zM716 527h1v1h-1zM659 528h1v1h-1zM661 528h1v1h-1zM663 528h1v1h-1zM665 528h1v1h-1zM667 528h1v1h-1zM669 528h1v1h-1zM671 528h1v1h-1zM673 528h1v1h-1zM675 528h1v1h-1zM677 528h1v1h-1zM679 528h1v1h-1zM681 528h1v1h-1zM683 528h1v1h-1zM685 528h1v1h-1zM687 528h1v1h-1zM689 528h1v1h-1zM691 528h1v1h-1zM693 528h1v1h-1zM695 528h1v1h-1zM697 528h1v1h-1zM699 528h1v1h-1zM701 528h1v1h-1zM703 528h1v1h-1zM705 528h1v1h-1zM707 528h1v1h-1zM709 528h1v1h-1zM711 528h1v1h-1zM713 528h1v1h-1zM715 528h1v1h-1z" fill="#fff" stroke="none"/>
<path d="M657.4 473.8 L718 473.8 L718 475.0 L756.2 475.0 Q758.2 475.0 758.2 477.0 L758.2 526.8 Q758.2 528.8 756.2 528.8 L718 528.8 L718 530.0 L657.4 530.0 Z" stroke-width="2.0" fill="none" />
<rect x="718.00" y="475.00" width="40.20" height="7.30" fill="#111" stroke="none"/>
<path d="M719 478h1v1h-1zM722 478h1v1h-1zM725 478h1v1h-1zM728 478h1v1h-1zM731 478h1v1h-1zM734 478h1v1h-1zM737 478h1v1h-1zM740 478h1v1h-1zM743 478h1v1h-1zM746 478h1v1h-1zM749 478h1v1h-1zM752 478h1v1h-1zM755 478h1v1h-1z" fill="#bbb" stroke="none"/>
<rect x="718.00" y="522.00" width="40.20" height="6.80" fill="#111" stroke="none"/>
<path d="M719 526h1v1h-1zM722 526h1v1h-1zM725 526h1v1h-1zM728 526h1v1h-1zM731 526h1v1h-1zM734 526h1v1h-1zM737 526h1v1h-1zM740 526h1v1h-1zM743 526h1v1h-1zM746 526h1v1h-1zM749 526h1v1h-1zM752 526h1v1h-1zM755 526h1v1h-1z" fill="#bbb" stroke="none"/>
<rect x="753.30" y="482.30" width="4.90" height="39.70" fill="#111" stroke="none"/>
<path d="M755 484h1v1h-1zM755 487h1v1h-1zM755 490h1v1h-1zM755 493h1v1h-1zM755 496h1v1h-1zM755 499h1v1h-1zM755 502h1v1h-1zM755 505h1v1h-1zM755 508h1v1h-1zM755 511h1v1h-1zM755 514h1v1h-1zM755 517h1v1h-1zM755 520h1v1h-1z" fill="#bbb" stroke="none"/>
<line x1="657.40" y1="481.60" x2="753.30" y2="481.60" stroke-width="3.0" />
<line x1="657.40" y1="522.70" x2="753.30" y2="522.70" stroke-width="3.0" />
<line x1="666.00" y1="482.30" x2="666.00" y2="522.00" stroke-width="2.0" />
<line x1="748.50" y1="482.30" x2="748.50" y2="522.00" stroke-width="1.0" />
<line x1="751.50" y1="482.30" x2="751.50" y2="522.00" stroke-width="0.8" />
<line x1="61.00" y1="773.50" x2="760.50" y2="773.50" stroke-width="1" stroke-dasharray="22 3.5 2.5 3.5"/>
<clipPath id="hc12"><path d="M66.6 752.7 Q60.2 772.6 66.6 792.6 L79.4 792.6 L79.4 752.7 Z"/></clipPath>
<path d="M66.6 752.7 Q60.2 772.6 66.6 792.6 L79.4 792.6 L79.4 752.7 Z" fill="#fff" stroke="none"/>
<path clip-path="url(#hc12)" d="M59.00 731.00 L81.00 753.00 M59.00 737.00 L81.00 759.00 M59.00 743.00 L81.00 765.00 M59.00 749.00 L81.00 771.00 M59.00 755.00 L81.00 777.00 M59.00 761.00 L81.00 783.00 M59.00 767.00 L81.00 789.00 M59.00 773.00 L81.00 795.00 M59.00 779.00 L81.00 801.00 M59.00 785.00 L81.00 807.00 M59.00 791.00 L81.00 813.00" stroke-width="1.1" fill="none"/>
<path d="M66.6 752.7 Q60.2 772.6 66.6 792.6" stroke-width="1.8" fill="none" />
<clipPath id="hc13"><path d="M147.6 752.7 L153.4 752.7 Q159.0 772.6 153.4 792.6 L147.6 792.6 Z"/></clipPath>
<path d="M147.6 752.7 L153.4 752.7 Q159.0 772.6 153.4 792.6 L147.6 792.6 Z" fill="#fff" stroke="none"/>
<path clip-path="url(#hc13)" d="M146.00 734.00 L161.00 749.00 M146.00 740.00 L161.00 755.00 M146.00 746.00 L161.00 761.00 M146.00 752.00 L161.00 767.00 M146.00 758.00 L161.00 773.00 M146.00 764.00 L161.00 779.00 M146.00 770.00 L161.00 785.00 M146.00 776.00 L161.00 791.00 M146.00 782.00 L161.00 797.00 M146.00 788.00 L161.00 803.00" stroke-width="1.1" fill="none"/>
<path d="M153.4 752.7 Q159.0 772.6 153.4 792.6" stroke-width="1.2" fill="none" />
<path d="M66.6 752.7 L168 752.7 L170.4 750.4 L170.4 729.3 L176.4 729.3" stroke-width="2.0" fill="none" />
<path d="M66.6 792.6 L168 792.6 L170.4 794.8 L170.4 816.0 L176.4 816.0" stroke-width="2.0" fill="none" />
<line x1="176.00" y1="729.30" x2="176.00" y2="816.00" stroke-width="2.0" />
<clipPath id="hc14"><path d="M80.6 759 L85.2 759 L86.4 786 L80.6 786 Z"/></clipPath>
<path d="M80.6 759 L85.2 759 L86.4 786 L80.6 786 Z" fill="#fff" stroke="none"/>
<path clip-path="url(#hc14)" d="M79.60 743.20 L92.20 755.80 M79.60 747.40 L92.20 760.00 M79.60 751.60 L92.20 764.20 M79.60 755.80 L92.20 768.40 M79.60 760.00 L92.20 772.60 M79.60 764.20 L92.20 776.80 M79.60 768.40 L92.20 781.00 M79.60 772.60 L92.20 785.20 M79.60 776.80 L92.20 789.40 M79.60 781.00 L92.20 793.60" stroke-width="1.0" fill="none"/>
<clipPath id="hc15"><path d="M85.2 759 L91.2 759 L91.2 786 L86.4 786 Z"/></clipPath>
<path d="M85.2 759 L91.2 759 L91.2 786 L86.4 786 Z" fill="#fff" stroke="none"/>
<path clip-path="url(#hc15)" d="M79.60 756.20 L92.20 743.60 M79.60 760.40 L92.20 747.80 M79.60 764.60 L92.20 752.00 M79.60 768.80 L92.20 756.20 M79.60 773.00 L92.20 760.40 M79.60 777.20 L92.20 764.60 M79.60 781.40 L92.20 768.80 M79.60 785.60 L92.20 773.00 M79.60 789.80 L92.20 777.20 M79.60 794.00 L92.20 781.40" stroke-width="1.0" fill="none"/>
<line x1="85.20" y1="759.00" x2="86.40" y2="786.00" stroke-width="2.0" />
<clipPath id="hc16"><path d="M146.6 759 L141.6 759 L140.4 786 L146.6 786 Z"/></clipPath>
<path d="M146.6 759 L141.6 759 L140.4 786 L146.6 786 Z" fill="#fff" stroke="none"/>
<path clip-path="url(#hc16)" d="M134.80 759.80 L147.60 747.00 M134.80 764.00 L147.60 751.20 M134.80 768.20 L147.60 755.40 M134.80 772.40 L147.60 759.60 M134.80 776.60 L147.60 763.80 M134.80 780.80 L147.60 768.00 M134.80 785.00 L147.60 772.20 M134.80 789.20 L147.60 776.40 M134.80 793.40 L147.60 780.60 M134.80 797.60 L147.60 784.80" stroke-width="1.0" fill="none"/>
<clipPath id="hc17"><path d="M141.6 759 L135.8 759 L135.8 786 L140.4 786 Z"/></clipPath>
<path d="M141.6 759 L135.8 759 L135.8 786 L140.4 786 Z" fill="#fff" stroke="none"/>
<path clip-path="url(#hc17)" d="M134.80 743.80 L147.60 756.60 M134.80 748.00 L147.60 760.80 M134.80 752.20 L147.60 765.00 M134.80 756.40 L147.60 769.20 M134.80 760.60 L147.60 773.40 M134.80 764.80 L147.60 777.60 M134.80 769.00 L147.60 781.80 M134.80 773.20 L147.60 786.00 M134.80 777.40 L147.60 790.20 M134.80 781.60 L147.60 794.40" stroke-width="1.0" fill="none"/>
<line x1="141.60" y1="759.00" x2="140.40" y2="786.00" stroke-width="2.0" />
<rect x="77.20" y="756.00" width="12.00" height="3.40" rx="0" stroke-width="0" fill="#000" stroke="none"/>
<rect x="77.20" y="785.40" width="12.00" height="3.40" rx="0" stroke-width="0" fill="#000" stroke="none"/>
<rect x="137.80" y="756.00" width="11.50" height="3.40" rx="0" stroke-width="0" fill="#000" stroke="none"/>
<rect x="137.80" y="785.40" width="11.50" height="3.40" rx="0" stroke-width="0" fill="#000" stroke="none"/>
<line x1="80.00" y1="753.50" x2="80.00" y2="792.00" stroke-width="2.2" />
<line x1="147.00" y1="753.50" x2="147.00" y2="792.00" stroke-width="2.2" />
<line x1="89.00" y1="757.70" x2="138.00" y2="757.70" stroke-width="2.6" />
<line x1="89.00" y1="787.40" x2="138.00" y2="787.40" stroke-width="2.6" />
<line x1="92.00" y1="756.60" x2="92.00" y2="789.00" stroke-width="2.2" />
<line x1="135.00" y1="756.60" x2="135.00" y2="789.00" stroke-width="2.2" />
<line x1="91.80" y1="771.00" x2="135.20" y2="771.00" stroke-width="1.5" />
<line x1="91.80" y1="774.10" x2="135.20" y2="774.10" stroke-width="1.5" />
<line x1="113.50" y1="729.50" x2="113.50" y2="852.00" stroke-width="1" />
<rect x="176.40" y="727.50" width="10.80" height="90.60" rx="5.4" stroke-width="2.0" fill="#fff" />
<path d="M188.6 729.3 L564.8 729.3 Q567.8 729.3 567.8 732.3 L567.8 813.0 Q567.8 816.0 564.8 816.0 L188.6 816.0 Z" stroke-width="2.0" fill="none" />
<line x1="547.60" y1="729.30" x2="547.60" y2="816.00" stroke-width="2.6" />
<circle cx="213.40" cy="773.30" r="24.60" stroke-width="1.9" fill="none" />
<circle cx="213.40" cy="773.30" r="14.30" stroke-width="1.9" fill="none" />
<path d="M213.40 748.70 L238.00 773.30 L213.40 797.90 L188.80 773.30 Z" stroke-width="1.9" fill="none" />
<line x1="213.50" y1="746.30" x2="213.50" y2="800.30" stroke-width="0.9" stroke-dasharray="22 3.5 2.5 3.5"/>
<circle cx="489.60" cy="773.30" r="24.60" stroke-width="1.9" fill="none" />
<circle cx="489.60" cy="773.30" r="14.30" stroke-width="1.9" fill="none" />
<path d="M489.60 748.70 L514.20 773.30 L489.60 797.90 L465.00 773.30 Z" stroke-width="1.9" fill="none" />
<line x1="489.50" y1="746.30" x2="489.50" y2="800.30" stroke-width="0.9" stroke-dasharray="22 3.5 2.5 3.5"/>
<path d="M405.29 728.80 L405.98 729.60 L406.69 730.39 L407.37 731.19 L408.03 731.99 L408.63 732.79 L409.15 733.58 L409.59 734.38 L409.92 735.18 L410.14 735.98 L410.24 736.77 L410.22 737.57 L410.08 738.37 L409.81 739.16 L409.44 739.96 L408.97 740.76 L408.41 741.56 L407.79 742.35 L407.12 743.15 L406.43 743.95 L405.73 744.75 L405.04 745.54 L404.39 746.34 L403.80 747.14 L403.29 747.93 L402.86 748.73 L402.54 749.53 L402.34 750.33 L402.25 751.12 L402.29 751.92 L402.45 752.72 L402.73 753.52 L403.11 754.31 L403.60 755.11 L404.16 755.91 L404.79 756.70 L405.46 757.50 L406.16 758.30 L406.86 759.10 L407.54 759.89 L408.19 760.69 L408.77 761.49 L409.27 762.29 L409.68 763.08 L409.99 763.88 L410.18 764.68 L410.25 765.47 L410.20 766.27 L410.02 767.07 L409.73 767.87 L409.33 768.66 L408.84 769.46 L408.26 770.26 L407.63 771.06 L406.95 771.85 L406.25 772.65 L405.55 773.45 L404.87 774.24 L404.24 775.04 L403.66 775.84 L403.17 776.64 L402.77 777.43 L402.48 778.23 L402.30 779.03 L402.25 779.83 L402.32 780.62 L402.51 781.42 L402.82 782.22 L403.23 783.01 L403.73 783.81 L404.31 784.61 L404.96 785.41 L405.64 786.20 L406.34 787.00 L407.04 787.80 L407.71 788.60 L408.34 789.39 L408.90 790.19 L409.39 790.99 L409.77 791.78 L410.05 792.58 L410.21 793.38 L410.25 794.18 L410.16 794.97 L409.96 795.77 L409.64 796.57 L409.21 797.37 L408.70 798.16 L408.11 798.96 L407.46 799.76 L406.77 800.55 L406.07 801.35 L405.38 802.15 L404.71 802.95 L404.09 803.74 L403.53 804.54 L403.06 805.34 L402.69 806.14 L402.42 806.93 L402.28 807.73 L402.26 808.53 L402.36 809.32 L402.58 810.12 L402.91 810.92 L403.35 811.72 L403.87 812.51 L404.47 813.31 L405.13 814.11 L405.81 814.91 L406.52 815.70 L407.21 816.50 L409.71 816.50 L409.02 815.70 L408.31 814.91 L407.63 814.11 L406.97 813.31 L406.37 812.51 L405.85 811.72 L405.41 810.92 L405.08 810.12 L404.86 809.32 L404.76 808.53 L404.78 807.73 L404.92 806.93 L405.19 806.14 L405.56 805.34 L406.03 804.54 L406.59 803.74 L407.21 802.95 L407.88 802.15 L408.57 801.35 L409.27 800.55 L409.96 799.76 L410.61 798.96 L411.20 798.16 L411.71 797.37 L412.14 796.57 L412.46 795.77 L412.66 794.97 L412.75 794.18 L412.71 793.38 L412.55 792.58 L412.27 791.78 L411.89 790.99 L411.40 790.19 L410.84 789.39 L410.21 788.60 L409.54 787.80 L408.84 787.00 L408.14 786.20 L407.46 785.41 L406.81 784.61 L406.23 783.81 L405.73 783.01 L405.32 782.22 L405.01 781.42 L404.82 780.62 L404.75 779.83 L404.80 779.03 L404.98 778.23 L405.27 777.43 L405.67 776.64 L406.16 775.84 L406.74 775.04 L407.37 774.24 L408.05 773.45 L408.75 772.65 L409.45 771.85 L410.13 771.06 L410.76 770.26 L411.34 769.46 L411.83 768.66 L412.23 767.87 L412.52 767.07 L412.70 766.27 L412.75 765.47 L412.68 764.68 L412.49 763.88 L412.18 763.08 L411.77 762.29 L411.27 761.49 L410.69 760.69 L410.04 759.89 L409.36 759.10 L408.66 758.30 L407.96 757.50 L407.29 756.70 L406.66 755.91 L406.10 755.11 L405.61 754.31 L405.23 753.52 L404.95 752.72 L404.79 751.92 L404.75 751.12 L404.84 750.33 L405.04 749.53 L405.36 748.73 L405.79 747.93 L406.30 747.14 L406.89 746.34 L407.54 745.54 L408.23 744.75 L408.93 743.95 L409.62 743.15 L410.29 742.35 L410.91 741.56 L411.47 740.76 L411.94 739.96 L412.31 739.16 L412.58 738.37 L412.72 737.57 L412.74 736.77 L412.64 735.98 L412.42 735.18 L412.09 734.38 L411.65 733.58 L411.13 732.79 L410.53 731.99 L409.87 731.19 L409.19 730.39 L408.48 729.60 L407.79 728.80 Z" fill="#fff" stroke="none"/>
<path d="M405.29 728.80 L405.98 729.60 L406.69 730.39 L407.37 731.19 L408.03 731.99 L408.63 732.79 L409.15 733.58 L409.59 734.38 L409.92 735.18 L410.14 735.98 L410.24 736.77 L410.22 737.57 L410.08 738.37 L409.81 739.16 L409.44 739.96 L408.97 740.76 L408.41 741.56 L407.79 742.35 L407.12 743.15 L406.43 743.95 L405.73 744.75 L405.04 745.54 L404.39 746.34 L403.80 747.14 L403.29 747.93 L402.86 748.73 L402.54 749.53 L402.34 750.33 L402.25 751.12 L402.29 751.92 L402.45 752.72 L402.73 753.52 L403.11 754.31 L403.60 755.11 L404.16 755.91 L404.79 756.70 L405.46 757.50 L406.16 758.30 L406.86 759.10 L407.54 759.89 L408.19 760.69 L408.77 761.49 L409.27 762.29 L409.68 763.08 L409.99 763.88 L410.18 764.68 L410.25 765.47 L410.20 766.27 L410.02 767.07 L409.73 767.87 L409.33 768.66 L408.84 769.46 L408.26 770.26 L407.63 771.06 L406.95 771.85 L406.25 772.65 L405.55 773.45 L404.87 774.24 L404.24 775.04 L403.66 775.84 L403.17 776.64 L402.77 777.43 L402.48 778.23 L402.30 779.03 L402.25 779.83 L402.32 780.62 L402.51 781.42 L402.82 782.22 L403.23 783.01 L403.73 783.81 L404.31 784.61 L404.96 785.41 L405.64 786.20 L406.34 787.00 L407.04 787.80 L407.71 788.60 L408.34 789.39 L408.90 790.19 L409.39 790.99 L409.77 791.78 L410.05 792.58 L410.21 793.38 L410.25 794.18 L410.16 794.97 L409.96 795.77 L409.64 796.57 L409.21 797.37 L408.70 798.16 L408.11 798.96 L407.46 799.76 L406.77 800.55 L406.07 801.35 L405.38 802.15 L404.71 802.95 L404.09 803.74 L403.53 804.54 L403.06 805.34 L402.69 806.14 L402.42 806.93 L402.28 807.73 L402.26 808.53 L402.36 809.32 L402.58 810.12 L402.91 810.92 L403.35 811.72 L403.87 812.51 L404.47 813.31 L405.13 814.11 L405.81 814.91 L406.52 815.70 L407.21 816.50" stroke-width="1.25" fill="none" />
<path d="M407.79 728.80 L408.48 729.60 L409.19 730.39 L409.87 731.19 L410.53 731.99 L411.13 732.79 L411.65 733.58 L412.09 734.38 L412.42 735.18 L412.64 735.98 L412.74 736.77 L412.72 737.57 L412.58 738.37 L412.31 739.16 L411.94 739.96 L411.47 740.76 L410.91 741.56 L410.29 742.35 L409.62 743.15 L408.93 743.95 L408.23 744.75 L407.54 745.54 L406.89 746.34 L406.30 747.14 L405.79 747.93 L405.36 748.73 L405.04 749.53 L404.84 750.33 L404.75 751.12 L404.79 751.92 L404.95 752.72 L405.23 753.52 L405.61 754.31 L406.10 755.11 L406.66 755.91 L407.29 756.70 L407.96 757.50 L408.66 758.30 L409.36 759.10 L410.04 759.89 L410.69 760.69 L411.27 761.49 L411.77 762.29 L412.18 763.08 L412.49 763.88 L412.68 764.68 L412.75 765.47 L412.70 766.27 L412.52 767.07 L412.23 767.87 L411.83 768.66 L411.34 769.46 L410.76 770.26 L410.13 771.06 L409.45 771.85 L408.75 772.65 L408.05 773.45 L407.37 774.24 L406.74 775.04 L406.16 775.84 L405.67 776.64 L405.27 777.43 L404.98 778.23 L404.80 779.03 L404.75 779.83 L404.82 780.62 L405.01 781.42 L405.32 782.22 L405.73 783.01 L406.23 783.81 L406.81 784.61 L407.46 785.41 L408.14 786.20 L408.84 787.00 L409.54 787.80 L410.21 788.60 L410.84 789.39 L411.40 790.19 L411.89 790.99 L412.27 791.78 L412.55 792.58 L412.71 793.38 L412.75 794.18 L412.66 794.97 L412.46 795.77 L412.14 796.57 L411.71 797.37 L411.20 798.16 L410.61 798.96 L409.96 799.76 L409.27 800.55 L408.57 801.35 L407.88 802.15 L407.21 802.95 L406.59 803.74 L406.03 804.54 L405.56 805.34 L405.19 806.14 L404.92 806.93 L404.78 807.73 L404.76 808.53 L404.86 809.32 L405.08 810.12 L405.41 810.92 L405.85 811.72 L406.37 812.51 L406.97 813.31 L407.63 814.11 L408.31 814.91 L409.02 815.70 L409.71 816.50" stroke-width="1.25" fill="none" />
<line x1="567.80" y1="750.00" x2="657.60" y2="750.00" stroke-width="2.0" />
<line x1="567.80" y1="796.00" x2="657.60" y2="796.00" stroke-width="2.0" />
<rect x="657.60" y="744.30" width="60.40" height="8.50" fill="#000" stroke="none"/>
<path d="M659 745h1v1h-1zM661 745h1v1h-1zM663 745h1v1h-1zM665 745h1v1h-1zM667 745h1v1h-1zM669 745h1v1h-1zM671 745h1v1h-1zM673 745h1v1h-1zM675 745h1v1h-1zM677 745h1v1h-1zM679 745h1v1h-1zM681 745h1v1h-1zM683 745h1v1h-1zM685 745h1v1h-1zM687 745h1v1h-1zM689 745h1v1h-1zM691 745h1v1h-1zM693 745h1v1h-1zM695 745h1v1h-1zM697 745h1v1h-1zM699 745h1v1h-1zM701 745h1v1h-1zM703 745h1v1h-1zM705 745h1v1h-1zM707 745h1v1h-1zM709 745h1v1h-1zM711 745h1v1h-1zM713 745h1v1h-1zM715 745h1v1h-1zM660 746h1v1h-1zM662 746h1v1h-1zM664 746h1v1h-1zM666 746h1v1h-1zM668 746h1v1h-1zM670 746h1v1h-1zM672 746h1v1h-1zM674 746h1v1h-1zM676 746h1v1h-1zM678 746h1v1h-1zM680 746h1v1h-1zM682 746h1v1h-1zM684 746h1v1h-1zM686 746h1v1h-1zM688 746h1v1h-1zM690 746h1v1h-1zM692 746h1v1h-1zM694 746h1v1h-1zM696 746h1v1h-1zM698 746h1v1h-1zM700 746h1v1h-1zM702 746h1v1h-1zM704 746h1v1h-1zM706 746h1v1h-1zM708 746h1v1h-1zM710 746h1v1h-1zM712 746h1v1h-1zM714 746h1v1h-1zM716 746h1v1h-1zM659 747h1v1h-1zM661 747h1v1h-1zM663 747h1v1h-1zM665 747h1v1h-1zM667 747h1v1h-1zM669 747h1v1h-1zM671 747h1v1h-1zM673 747h1v1h-1zM675 747h1v1h-1zM677 747h1v1h-1zM679 747h1v1h-1zM681 747h1v1h-1zM683 747h1v1h-1zM685 747h1v1h-1zM687 747h1v1h-1zM689 747h1v1h-1zM691 747h1v1h-1zM693 747h1v1h-1zM695 747h1v1h-1zM697 747h1v1h-1zM699 747h1v1h-1zM701 747h1v1h-1zM703 747h1v1h-1zM705 747h1v1h-1zM707 747h1v1h-1zM709 747h1v1h-1zM711 747h1v1h-1zM713 747h1v1h-1zM715 747h1v1h-1zM660 748h1v1h-1zM662 748h1v1h-1zM664 748h1v1h-1zM666 748h1v1h-1zM668 748h1v1h-1zM670 748h1v1h-1zM672 748h1v1h-1zM674 748h1v1h-1zM676 748h1v1h-1zM678 748h1v1h-1zM680 748h1v1h-1zM682 748h1v1h-1zM684 748h1v1h-1zM686 748h1v1h-1zM688 748h1v1h-1zM690 748h1v1h-1zM692 748h1v1h-1zM694 748h1v1h-1zM696 748h1v1h-1zM698 748h1v1h-1zM700 748h1v1h-1zM702 748h1v1h-1zM704 748h1v1h-1zM706 748h1v1h-1zM708 748h1v1h-1zM710 748h1v1h-1zM712 748h1v1h-1zM714 748h1v1h-1zM716 748h1v1h-1zM659 749h1v1h-1zM661 749h1v1h-1zM663 749h1v1h-1zM665 749h1v1h-1zM667 749h1v1h-1zM669 749h1v1h-1zM671 749h1v1h-1zM673 749h1v1h-1zM675 749h1v1h-1zM677 749h1v1h-1zM679 749h1v1h-1zM681 749h1v1h-1zM683 749h1v1h-1zM685 749h1v1h-1zM687 749h1v1h-1zM689 749h1v1h-1zM691 749h1v1h-1zM693 749h1v1h-1zM695 749h1v1h-1zM697 749h1v1h-1zM699 749h1v1h-1zM701 749h1v1h-1zM703 749h1v1h-1zM705 749h1v1h-1zM707 749h1v1h-1zM709 749h1v1h-1zM711 749h1v1h-1zM713 749h1v1h-1zM715 749h1v1h-1zM660 750h1v1h-1zM662 750h1v1h-1zM664 750h1v1h-1zM666 750h1v1h-1zM668 750h1v1h-1zM670 750h1v1h-1zM672 750h1v1h-1zM674 750h1v1h-1zM676 750h1v1h-1zM678 750h1v1h-1zM680 750h1v1h-1zM682 750h1v1h-1zM684 750h1v1h-1zM686 750h1v1h-1zM688 750h1v1h-1zM690 750h1v1h-1zM692 750h1v1h-1zM694 750h1v1h-1zM696 750h1v1h-1zM698 750h1v1h-1zM700 750h1v1h-1zM702 750h1v1h-1zM704 750h1v1h-1zM706 750h1v1h-1zM708 750h1v1h-1zM710 750h1v1h-1zM712 750h1v1h-1zM714 750h1v1h-1zM716 750h1v1h-1zM659 751h1v1h-1zM661 751h1v1h-1zM663 751h1v1h-1zM665 751h1v1h-1zM667 751h1v1h-1zM669 751h1v1h-1zM671 751h1v1h-1zM673 751h1v1h-1zM675 751h1v1h-1zM677 751h1v1h-1zM679 751h1v1h-1zM681 751h1v1h-1zM683 751h1v1h-1zM685 751h1v1h-1zM687 751h1v1h-1zM689 751h1v1h-1zM691 751h1v1h-1zM693 751h1v1h-1zM695 751h1v1h-1zM697 751h1v1h-1zM699 751h1v1h-1zM701 751h1v1h-1zM703 751h1v1h-1zM705 751h1v1h-1zM707 751h1v1h-1zM709 751h1v1h-1zM711 751h1v1h-1zM713 751h1v1h-1zM715 751h1v1h-1z" fill="#fff" stroke="none"/>
<rect x="657.60" y="792.20" width="60.40" height="8.20" fill="#000" stroke="none"/>
<path d="M659 793h1v1h-1zM661 793h1v1h-1zM663 793h1v1h-1zM665 793h1v1h-1zM667 793h1v1h-1zM669 793h1v1h-1zM671 793h1v1h-1zM673 793h1v1h-1zM675 793h1v1h-1zM677 793h1v1h-1zM679 793h1v1h-1zM681 793h1v1h-1zM683 793h1v1h-1zM685 793h1v1h-1zM687 793h1v1h-1zM689 793h1v1h-1zM691 793h1v1h-1zM693 793h1v1h-1zM695 793h1v1h-1zM697 793h1v1h-1zM699 793h1v1h-1zM701 793h1v1h-1zM703 793h1v1h-1zM705 793h1v1h-1zM707 793h1v1h-1zM709 793h1v1h-1zM711 793h1v1h-1zM713 793h1v1h-1zM715 793h1v1h-1zM660 794h1v1h-1zM662 794h1v1h-1zM664 794h1v1h-1zM666 794h1v1h-1zM668 794h1v1h-1zM670 794h1v1h-1zM672 794h1v1h-1zM674 794h1v1h-1zM676 794h1v1h-1zM678 794h1v1h-1zM680 794h1v1h-1zM682 794h1v1h-1zM684 794h1v1h-1zM686 794h1v1h-1zM688 794h1v1h-1zM690 794h1v1h-1zM692 794h1v1h-1zM694 794h1v1h-1zM696 794h1v1h-1zM698 794h1v1h-1zM700 794h1v1h-1zM702 794h1v1h-1zM704 794h1v1h-1zM706 794h1v1h-1zM708 794h1v1h-1zM710 794h1v1h-1zM712 794h1v1h-1zM714 794h1v1h-1zM716 794h1v1h-1zM659 795h1v1h-1zM661 795h1v1h-1zM663 795h1v1h-1zM665 795h1v1h-1zM667 795h1v1h-1zM669 795h1v1h-1zM671 795h1v1h-1zM673 795h1v1h-1zM675 795h1v1h-1zM677 795h1v1h-1zM679 795h1v1h-1zM681 795h1v1h-1zM683 795h1v1h-1zM685 795h1v1h-1zM687 795h1v1h-1zM689 795h1v1h-1zM691 795h1v1h-1zM693 795h1v1h-1zM695 795h1v1h-1zM697 795h1v1h-1zM699 795h1v1h-1zM701 795h1v1h-1zM703 795h1v1h-1zM705 795h1v1h-1zM707 795h1v1h-1zM709 795h1v1h-1zM711 795h1v1h-1zM713 795h1v1h-1zM715 795h1v1h-1zM660 796h1v1h-1zM662 796h1v1h-1zM664 796h1v1h-1zM666 796h1v1h-1zM668 796h1v1h-1zM670 796h1v1h-1zM672 796h1v1h-1zM674 796h1v1h-1zM676 796h1v1h-1zM678 796h1v1h-1zM680 796h1v1h-1zM682 796h1v1h-1zM684 796h1v1h-1zM686 796h1v1h-1zM688 796h1v1h-1zM690 796h1v1h-1zM692 796h1v1h-1zM694 796h1v1h-1zM696 796h1v1h-1zM698 796h1v1h-1zM700 796h1v1h-1zM702 796h1v1h-1zM704 796h1v1h-1zM706 796h1v1h-1zM708 796h1v1h-1zM710 796h1v1h-1zM712 796h1v1h-1zM714 796h1v1h-1zM716 796h1v1h-1zM659 797h1v1h-1zM661 797h1v1h-1zM663 797h1v1h-1zM665 797h1v1h-1zM667 797h1v1h-1zM669 797h1v1h-1zM671 797h1v1h-1zM673 797h1v1h-1zM675 797h1v1h-1zM677 797h1v1h-1zM679 797h1v1h-1zM681 797h1v1h-1zM683 797h1v1h-1zM685 797h1v1h-1zM687 797h1v1h-1zM689 797h1v1h-1zM691 797h1v1h-1zM693 797h1v1h-1zM695 797h1v1h-1zM697 797h1v1h-1zM699 797h1v1h-1zM701 797h1v1h-1zM703 797h1v1h-1zM705 797h1v1h-1zM707 797h1v1h-1zM709 797h1v1h-1zM711 797h1v1h-1zM713 797h1v1h-1zM715 797h1v1h-1zM660 798h1v1h-1zM662 798h1v1h-1zM664 798h1v1h-1zM666 798h1v1h-1zM668 798h1v1h-1zM670 798h1v1h-1zM672 798h1v1h-1zM674 798h1v1h-1zM676 798h1v1h-1zM678 798h1v1h-1zM680 798h1v1h-1zM682 798h1v1h-1zM684 798h1v1h-1zM686 798h1v1h-1zM688 798h1v1h-1zM690 798h1v1h-1zM692 798h1v1h-1zM694 798h1v1h-1zM696 798h1v1h-1zM698 798h1v1h-1zM700 798h1v1h-1zM702 798h1v1h-1zM704 798h1v1h-1zM706 798h1v1h-1zM708 798h1v1h-1zM710 798h1v1h-1zM712 798h1v1h-1zM714 798h1v1h-1zM716 798h1v1h-1z" fill="#fff" stroke="none"/>
<path d="M657.6 744.3 L718 744.3 L718 745.5 L756.3 745.5 Q758.3 745.5 758.3 747.5 L758.3 797.1999999999999 Q758.3 799.1999999999999 756.3 799.1999999999999 L718 799.1999999999999 L718 800.4 L657.6 800.4 Z" stroke-width="2.0" fill="none" />
<rect x="718.00" y="745.50" width="40.30" height="7.30" fill="#111" stroke="none"/>
<path d="M719 748h1v1h-1zM722 748h1v1h-1zM725 748h1v1h-1zM728 748h1v1h-1zM731 748h1v1h-1zM734 748h1v1h-1zM737 748h1v1h-1zM740 748h1v1h-1zM743 748h1v1h-1zM746 748h1v1h-1zM749 748h1v1h-1zM752 748h1v1h-1zM755 748h1v1h-1z" fill="#bbb" stroke="none"/>
<rect x="718.00" y="792.20" width="40.30" height="7.00" fill="#111" stroke="none"/>
<path d="M719 796h1v1h-1zM722 796h1v1h-1zM725 796h1v1h-1zM728 796h1v1h-1zM731 796h1v1h-1zM734 796h1v1h-1zM737 796h1v1h-1zM740 796h1v1h-1zM743 796h1v1h-1zM746 796h1v1h-1zM749 796h1v1h-1zM752 796h1v1h-1zM755 796h1v1h-1z" fill="#bbb" stroke="none"/>
<rect x="753.30" y="752.80" width="5.00" height="39.40" fill="#111" stroke="none"/>
<path d="M755 754h1v1h-1zM755 757h1v1h-1zM755 760h1v1h-1zM755 763h1v1h-1zM755 766h1v1h-1zM755 769h1v1h-1zM755 772h1v1h-1zM755 775h1v1h-1zM755 778h1v1h-1zM755 781h1v1h-1zM755 784h1v1h-1zM755 787h1v1h-1zM755 790h1v1h-1z" fill="#bbb" stroke="none"/>
<line x1="657.60" y1="752.10" x2="753.30" y2="752.10" stroke-width="3.0" />
<line x1="657.60" y1="792.90" x2="753.30" y2="792.90" stroke-width="3.0" />
<line x1="665.00" y1="752.80" x2="665.00" y2="792.20" stroke-width="2.0" />
<line x1="748.50" y1="752.80" x2="748.50" y2="792.20" stroke-width="1.0" />
<line x1="751.50" y1="752.80" x2="751.50" y2="792.20" stroke-width="0.8" />
<line x1="225.00" y1="709.50" x2="356.20" y2="709.50" stroke-width="1" />
<line x1="225.00" y1="709.30" x2="245.20" y2="728.60" stroke-width="1" />
<path d="M245.20 728.60 L235.59 722.74 L238.90 719.27 Z" fill="#000" stroke="none"/>
<line x1="113.40" y1="366.50" x2="753.00" y2="366.50" stroke-width="1" />
<path d="M113.40 366.50 L123.40 364.50 L123.40 368.50 Z" fill="#000" stroke="none"/>
<path d="M753.00 366.50 L743.00 368.50 L743.00 364.50 Z" fill="#000" stroke="none"/>
<line x1="753.50" y1="358.00" x2="753.50" y2="474.00" stroke-width="1" />
<text x="364.70" y="363.70" font-size="17.5" text-anchor="start" textLength="22.70" lengthAdjust="spacingAndGlyphs" >547</text>
<line x1="474.90" y1="388.50" x2="555.50" y2="388.50" stroke-width="1" />
<path d="M474.90 388.40 L484.90 386.40 L484.90 390.40 Z" fill="#000" stroke="none"/>
<path d="M505.50 388.40 L495.50 390.40 L495.50 386.40 Z" fill="#000" stroke="none"/>
<line x1="474.50" y1="381.60" x2="474.50" y2="429.00" stroke-width="0.9" />
<line x1="505.50" y1="381.60" x2="505.50" y2="429.00" stroke-width="0.9" />
<text x="507.80" y="384.50" font-size="17.5" text-anchor="start" textLength="46.50" lengthAdjust="spacingAndGlyphs" >M22×1.5</text>
<text x="511.70" y="403.00" font-size="17.5" text-anchor="start" textLength="38.10" lengthAdjust="spacingAndGlyphs" >2 оmб.</text>
<line x1="448.50" y1="410.00" x2="448.50" y2="475.90" stroke-width="1" />
<path d="M448.50 435.80 L446.50 425.80 L450.50 425.80 Z" fill="#000" stroke="none"/>
<path d="M448.50 465.60 L450.50 475.60 L446.50 475.60 Z" fill="#000" stroke="none"/>
<line x1="442.10" y1="436.50" x2="467.70" y2="436.50" stroke-width="1" />
<text transform="translate(445.70,422.80) rotate(-90)" x="0" y="0" font-size="17.5" textLength="12.10" lengthAdjust="spacingAndGlyphs">16</text>
<line x1="318.50" y1="431.00" x2="318.50" y2="524.40" stroke-width="1" />
<path d="M318.50 479.60 L320.50 489.60 L316.50 489.60 Z" fill="#000" stroke="none"/>
<path d="M318.50 523.60 L316.50 513.60 L320.50 513.60 Z" fill="#000" stroke="none"/>
<text transform="translate(314.50,454.50) rotate(-90)" x="0" y="0" font-size="17.5" textLength="23.00" lengthAdjust="spacingAndGlyphs">ϕ32</text>
<line x1="343.50" y1="465.80" x2="343.50" y2="538.60" stroke-width="1" />
<path d="M343.70 466.60 L345.70 476.60 L341.70 476.60 Z" fill="#000" stroke="none"/>
<path d="M343.70 537.80 L341.70 527.80 L345.70 527.80 Z" fill="#000" stroke="none"/>
<text transform="translate(341.50,510.80) rotate(-90)" x="0" y="0" font-size="17.5" textLength="22.20" lengthAdjust="spacingAndGlyphs">ϕ50</text>
<line x1="369.50" y1="459.20" x2="369.50" y2="544.20" stroke-width="1" />
<path d="M369.00 460.00 L371.00 470.00 L367.00 470.00 Z" fill="#000" stroke="none"/>
<path d="M369.00 543.40 L367.00 533.40 L371.00 533.40 Z" fill="#000" stroke="none"/>
<text transform="translate(366.50,511.80) rotate(-90)" x="0" y="0" font-size="17.5" textLength="23.20" lengthAdjust="spacingAndGlyphs">ϕ60</text>
<line x1="271.50" y1="516.00" x2="271.50" y2="582.40" stroke-width="1" />
<line x1="485.50" y1="526.00" x2="485.50" y2="582.40" stroke-width="1" />
<line x1="271.50" y1="577.50" x2="485.50" y2="577.50" stroke-width="1" />
<path d="M271.50 577.80 L281.50 575.80 L281.50 579.80 Z" fill="#000" stroke="none"/>
<path d="M485.50 577.80 L475.50 579.80 L475.50 575.80 Z" fill="#000" stroke="none"/>
<text x="359.90" y="573.90" font-size="17.5" text-anchor="start" textLength="22.70" lengthAdjust="spacingAndGlyphs" >250</text>
<line x1="698.50" y1="482.30" x2="698.50" y2="583.40" stroke-width="1" />
<path d="M698.40 483.00 L700.40 493.00 L696.40 493.00 Z" fill="#000" stroke="none"/>
<path d="M698.40 521.30 L696.40 511.30 L700.40 511.30 Z" fill="#000" stroke="none"/>
<text transform="translate(694.00,582.60) rotate(-90)" x="0" y="0" font-size="17.5" textLength="45.10" lengthAdjust="spacingAndGlyphs">M30×1,5</text>
<text x="40.70" y="448.40" font-size="17.5" text-anchor="start" textLength="34.30" lengthAdjust="spacingAndGlyphs" >OR35</text>
<line x1="48.50" y1="733.90" x2="48.50" y2="792.60" stroke-width="1" />
<path d="M48.10 753.20 L50.10 763.20 L46.10 763.20 Z" fill="#000" stroke="none"/>
<path d="M48.10 792.10 L46.10 782.10 L50.10 782.10 Z" fill="#000" stroke="none"/>
<line x1="43.00" y1="752.50" x2="66.60" y2="752.50" stroke-width="1" />
<line x1="43.00" y1="792.50" x2="66.60" y2="792.50" stroke-width="1" />
<text transform="translate(44.90,750.00) rotate(-90)" x="0" y="0" font-size="17.5" textLength="15.10" lengthAdjust="spacingAndGlyphs">28</text>
<line x1="113.30" y1="736.50" x2="170.40" y2="736.50" stroke-width="1" />
<path d="M113.30 736.20 L123.30 734.20 L123.30 738.20 Z" fill="#000" stroke="none"/>
<path d="M170.20 736.20 L160.20 738.20 L160.20 734.20 Z" fill="#000" stroke="none"/>
<text x="136.60" y="733.00" font-size="17.5" text-anchor="start" textLength="15.10" lengthAdjust="spacingAndGlyphs" >40</text>
<line x1="92.50" y1="790.00" x2="92.50" y2="830.50" stroke-width="1" />
<line x1="135.50" y1="790.00" x2="135.50" y2="830.50" stroke-width="1" />
<line x1="64.30" y1="824.50" x2="135.20" y2="824.50" stroke-width="1" />
<path d="M92.00 824.40 L102.00 822.40 L102.00 826.40 Z" fill="#000" stroke="none"/>
<path d="M135.20 824.40 L125.20 826.40 L125.20 822.40 Z" fill="#000" stroke="none"/>
<text x="64.30" y="820.30" font-size="17.5" text-anchor="start" textLength="22.70" lengthAdjust="spacingAndGlyphs" >ϕ30</text>
<line x1="113.40" y1="846.50" x2="750.80" y2="846.50" stroke-width="1" />
<line x1="213.50" y1="773.30" x2="213.50" y2="852.00" stroke-width="1" />
<line x1="489.50" y1="773.30" x2="489.50" y2="852.00" stroke-width="1" />
<line x1="567.50" y1="816.00" x2="567.50" y2="852.00" stroke-width="1" />
<line x1="750.50" y1="697.20" x2="750.50" y2="853.00" stroke-width="1" />
<path d="M113.40 846.80 L123.40 844.80 L123.40 848.80 Z" fill="#000" stroke="none"/>
<path d="M213.40 846.80 L203.40 848.80 L203.40 844.80 Z" fill="#000" stroke="none"/>
<path d="M213.40 846.80 L223.40 844.80 L223.40 848.80 Z" fill="#000" stroke="none"/>
<path d="M489.60 846.80 L479.60 848.80 L479.60 844.80 Z" fill="#000" stroke="none"/>
<path d="M489.60 846.80 L499.60 844.80 L499.60 848.80 Z" fill="#000" stroke="none"/>
<path d="M567.80 846.80 L557.80 848.80 L557.80 844.80 Z" fill="#000" stroke="none"/>
<path d="M567.80 846.80 L577.80 844.80 L577.80 848.80 Z" fill="#000" stroke="none"/>
<path d="M750.80 846.80 L740.80 848.80 L740.80 844.80 Z" fill="#000" stroke="none"/>
<text x="159.70" y="843.00" font-size="17.5" text-anchor="start" textLength="15.00" lengthAdjust="spacingAndGlyphs" >70</text>
<text x="334.00" y="844.00" font-size="17.5" text-anchor="start" textLength="21.00" lengthAdjust="spacingAndGlyphs" >294</text>
<text x="526.20" y="843.60" font-size="17.5" text-anchor="start" textLength="14.60" lengthAdjust="spacingAndGlyphs" >55</text>
<text x="649.30" y="844.20" font-size="17.5" text-anchor="start" textLength="19.70" lengthAdjust="spacingAndGlyphs" >128</text>
<line x1="658.50" y1="697.20" x2="658.50" y2="744.30" stroke-width="1" />
<line x1="665.50" y1="723.30" x2="665.50" y2="744.30" stroke-width="1" />
<line x1="658.50" y1="703.50" x2="750.80" y2="703.50" stroke-width="1" />
<path d="M658.50 703.80 L668.50 701.80 L668.50 705.80 Z" fill="#000" stroke="none"/>
<path d="M750.80 703.80 L740.80 705.80 L740.80 701.80 Z" fill="#000" stroke="none"/>
<line x1="665.40" y1="729.50" x2="750.80" y2="729.50" stroke-width="1" />
<path d="M665.40 729.60 L675.40 727.60 L675.40 731.60 Z" fill="#000" stroke="none"/>
<path d="M750.80 729.60 L740.80 731.60 L740.80 727.60 Z" fill="#000" stroke="none"/>
<text x="694.00" y="700.50" font-size="17.5" text-anchor="start" textLength="14.40" lengthAdjust="spacingAndGlyphs" >65</text>
<text x="697.90" y="726.90" font-size="17.5" text-anchor="start" textLength="14.70" lengthAdjust="spacingAndGlyphs" >60</text>
<text x="231.70" y="705.80" font-size="17.5" text-anchor="start" textLength="117.40" lengthAdjust="spacingAndGlyphs" >Месmо мɑркuробкu</text>
<text x="199.6" y="542.0" font-size="41.5" textLength="398" lengthAdjust="spacing" style="fill:#dcdcf0;stroke:none">оптинструмент.рф</text>
</svg></body></html>
